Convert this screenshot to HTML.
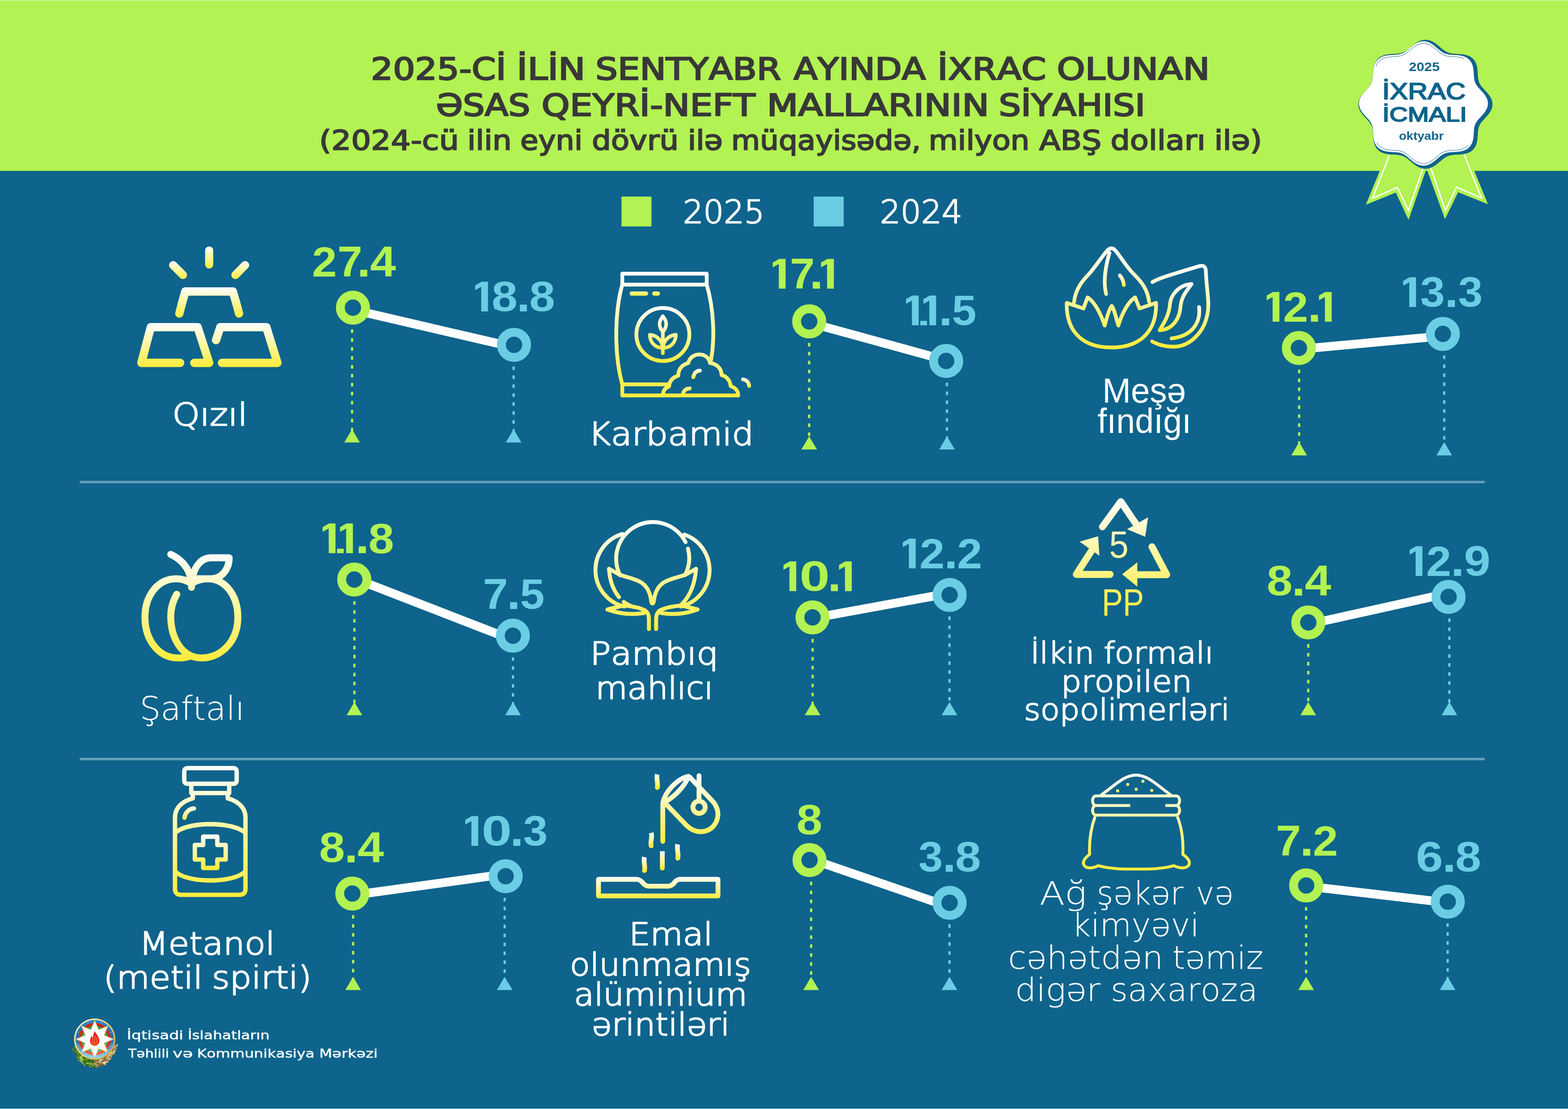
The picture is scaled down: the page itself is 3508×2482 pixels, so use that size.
<!DOCTYPE html>
<html lang="az"><head><meta charset="utf-8"><title>2025-ci ilin sentyabr ayında ixrac olunan əsas qeyri-neft mallarının siyahısı</title>
<style>
html,body{margin:0;padding:0;background:#0e648c;}
body{width:3508px;height:2482px;overflow:hidden;font-family:"Liberation Sans",sans-serif;}
svg{display:block;}
text{font-kerning:none;white-space:pre;}
</style></head><body>
<svg xmlns="http://www.w3.org/2000/svg" width="3508" height="2482" viewBox="0 0 3508 2482">
<rect x="0" y="0" width="3508" height="2482" fill="#0e648c"/>
<rect x="0" y="0" width="3508" height="382.5" fill="#b2f252"/>
<rect x="0" y="0" width="3508" height="1.5" fill="#d2f5b4"/>
<rect x="0" y="2480" width="3508" height="1" fill="#0c5479"/>
<rect x="0" y="2481" width="3508" height="1" fill="#c4ffff"/>
<text y="177.9" font-family="'DejaVu Sans', 'Liberation Sans', sans-serif" font-size="68.0" fill="#383838" stroke="#383838" stroke-width="2.8" stroke-linejoin="miter" stroke-miterlimit="2"><tspan x="829.8" textLength="302.5" lengthAdjust="spacingAndGlyphs">2025-Cİ</tspan> <tspan x="1156.3" textLength="153.3" lengthAdjust="spacingAndGlyphs">İLİN</tspan> <tspan x="1332.2" textLength="415.2" lengthAdjust="spacingAndGlyphs">SENTYABR</tspan> <tspan x="1775.8" textLength="295.1" lengthAdjust="spacingAndGlyphs">AYINDA</tspan> <tspan x="2097.3" textLength="243.4" lengthAdjust="spacingAndGlyphs">İXRAC</tspan> <tspan x="2364.6" textLength="341.9" lengthAdjust="spacingAndGlyphs">OLUNAN</tspan></text>
<text y="259.3" font-family="'DejaVu Sans', 'Liberation Sans', sans-serif" font-size="68.0" fill="#383838" stroke="#383838" stroke-width="2.8" stroke-linejoin="miter" stroke-miterlimit="2"><tspan x="975.0" textLength="211.1" lengthAdjust="spacingAndGlyphs">ƏSAS</tspan> <tspan x="1211.5" textLength="478.1" lengthAdjust="spacingAndGlyphs">QEYRİ-NEFT</tspan> <tspan x="1715.7" textLength="497.2" lengthAdjust="spacingAndGlyphs">MALLARININ</tspan> <tspan x="2234.4" textLength="328.0" lengthAdjust="spacingAndGlyphs">SİYAHISI</tspan></text>
<text y="335.2" font-family="'DejaVu Sans', 'Liberation Sans', sans-serif" font-size="60.0" fill="#383838" stroke="#383838" stroke-width="2.296" stroke-linejoin="miter" stroke-miterlimit="2"><tspan x="714.0" textLength="312.7" lengthAdjust="spacingAndGlyphs">(2024-cü</tspan> <tspan x="1045.4" textLength="99.1" lengthAdjust="spacingAndGlyphs">ilin</tspan> <tspan x="1164.0" textLength="139.2" lengthAdjust="spacingAndGlyphs">eyni</tspan> <tspan x="1324.2" textLength="194.1" lengthAdjust="spacingAndGlyphs">dövrü</tspan> <tspan x="1538.7" textLength="78.3" lengthAdjust="spacingAndGlyphs">ilə</tspan> <tspan x="1636.1" textLength="424.1" lengthAdjust="spacingAndGlyphs">müqayisədə,</tspan> <tspan x="2077.4" textLength="226.0" lengthAdjust="spacingAndGlyphs">milyon</tspan> <tspan x="2325.0" textLength="139.3" lengthAdjust="spacingAndGlyphs">ABŞ</tspan> <tspan x="2484.6" textLength="212.5" lengthAdjust="spacingAndGlyphs">dolları</tspan> <tspan x="2716.7" textLength="106.9" lengthAdjust="spacingAndGlyphs">ilə)</tspan></text>
<rect x="1390.4" y="440" width="67.1" height="66.8" fill="#b2f252"/>
<rect x="1820.4" y="440" width="67.1" height="66.8" fill="#6acde4"/>
<text y="499.3" font-family="'DejaVu Sans Light', 'DejaVu Sans', 'Liberation Sans', sans-serif" font-size="70.5" font-weight="200" fill="#fff" stroke="#fff" stroke-width="2.4" stroke-linejoin="miter" stroke-miterlimit="2"><tspan x="1527.9" textLength="182.5" lengthAdjust="spacingAndGlyphs">2025</tspan></text>
<text y="499.3" font-family="'DejaVu Sans Light', 'DejaVu Sans', 'Liberation Sans', sans-serif" font-size="70.5" font-weight="200" fill="#fff" stroke="#fff" stroke-width="2.4" stroke-linejoin="miter" stroke-miterlimit="2"><tspan x="1968.7" textLength="184.3" lengthAdjust="spacingAndGlyphs">2024</tspan></text>
<rect x="178.3" y="1076.1" width="3143.2" height="5.6" fill="#659db9"/>
<rect x="178.3" y="1696" width="3143.2" height="5.6" fill="#659db9"/>
<line x1="815.6" y1="699.2" x2="1124.0" y2="771.1" stroke="#fff" stroke-width="19.5"/>
<line x1="787.7" y1="736.9" x2="787.7" y2="966.7" stroke="#b2f252" stroke-width="5" stroke-dasharray="8 12.03"/>
<path d="M787.7 960.7L805.2 990.3H770.2Z" fill="#b2f252"/>
<circle cx="789.6" cy="688.6" r="28.2" fill="#0e648c" stroke="#b2f252" stroke-width="19.8"/>
<line x1="1149.1" y1="820.1" x2="1149.1" y2="966.7" stroke="#6acde4" stroke-width="5" stroke-dasharray="8 12.03"/>
<path d="M1149.1 960.7L1166.6 990.3H1131.6Z" fill="#6acde4"/>
<circle cx="1150.0" cy="771.8" r="28.2" fill="#0e648c" stroke="#6acde4" stroke-width="19.8"/>
<text y="618.9" font-family="'Liberation Sans', sans-serif" font-size="95.9" font-weight="bold" fill="#b2f252"><tspan x="697.9" y="618.9" font-size="95.0" textLength="55.6" lengthAdjust="spacingAndGlyphs">2</tspan><tspan x="755.1" y="618.9" font-size="95.9" textLength="55.8" lengthAdjust="spacingAndGlyphs">7</tspan><tspan x="798.5" y="618.9" font-size="102.0" textLength="30.7" lengthAdjust="spacingAndGlyphs">.</tspan><tspan x="828.1" y="618.9" font-size="95.9" textLength="57.8" lengthAdjust="spacingAndGlyphs">4</tspan></text>
<text y="697.0" font-family="'Liberation Sans', sans-serif" font-size="95.9" font-weight="bold" fill="#6acde4"><tspan x="1050.9" y="697.0" textLength="61.2" lengthAdjust="spacingAndGlyphs">1</tspan><tspan x="1099.9" y="696.4" font-size="94.1" textLength="57.8" lengthAdjust="spacingAndGlyphs">8</tspan><tspan x="1155.5" y="697.0" font-size="102.0" textLength="30.9" lengthAdjust="spacingAndGlyphs">.</tspan><tspan x="1184.3" y="696.4" font-size="94.1" textLength="57.5" lengthAdjust="spacingAndGlyphs">8</tspan></text>
<path d="M1057 628.0H1063.00V660.7H1057ZM1091.70 699.5L1111.00 699.5L1111.00 698.0L1111.00 696.5L1111.00 695.0L1109.15 693.5L1107.45 692.0L1106.12 690.5L1105.09 689.0L1104.29 687.5L1104.08 687.0L1103.57 685.6L1091.70 685.6ZM1076.60 699.5L1056.00 699.5L1056.00 698.0L1056.00 696.5L1056.00 695.0L1056.00 693.5L1056.00 692.0L1056.00 690.5L1056.00 689.0L1056.00 687.5L1056.00 687.0L1056.00 685.6L1076.60 685.6Z" fill="#0e648c"/>
<line x1="1836.4" y1="729.3" x2="2090.8" y2="799.3" stroke="#fff" stroke-width="19.5"/>
<line x1="1810.3" y1="767.5" x2="1810.3" y2="982.5" stroke="#b2f252" stroke-width="5" stroke-dasharray="8 12.03"/>
<path d="M1810.3 976.5L1827.8 1006.1H1792.8Z" fill="#b2f252"/>
<circle cx="1810.4" cy="719.2" r="28.2" fill="#0e648c" stroke="#b2f252" stroke-width="19.8"/>
<line x1="2118.6" y1="856.2" x2="2118.6" y2="982.5" stroke="#6acde4" stroke-width="5" stroke-dasharray="8 12.03"/>
<path d="M2118.6 976.5L2136.1 1006.1H2101.1Z" fill="#6acde4"/>
<circle cx="2116.8" cy="807.9" r="28.2" fill="#0e648c" stroke="#6acde4" stroke-width="19.8"/>
<text y="646.0" font-family="'Liberation Sans', sans-serif" font-size="95.9" font-weight="bold" fill="#b2f252"><tspan x="1716.7" y="646.0" textLength="61.2" lengthAdjust="spacingAndGlyphs">1</tspan><tspan x="1767.3" y="646.0" font-size="95.9" textLength="55.5" lengthAdjust="spacingAndGlyphs">7</tspan><tspan x="1810.8" y="646.0" font-size="102.0" textLength="30.9" lengthAdjust="spacingAndGlyphs">.</tspan><tspan x="1824.7" y="646.0" textLength="61.2" lengthAdjust="spacingAndGlyphs">1</tspan></text>
<path d="M1723 577.0H1728.70V609.7H1723ZM1757.50 648.5L1776.00 648.5L1776.00 647.0L1776.00 645.5L1776.00 644.0L1776.00 642.5L1776.00 641.0L1776.00 639.5L1776.00 638.0L1776.00 636.5L1776.00 636.0L1776.00 634.6L1757.50 634.6ZM1742.40 648.5L1722.00 648.5L1722.00 647.0L1722.00 645.5L1722.00 644.0L1722.00 642.5L1722.00 641.0L1722.00 639.5L1722.00 638.0L1722.00 636.5L1722.00 636.0L1722.00 634.6L1742.40 634.6ZM1831 577.0H1836.90V609.7H1831ZM1865.50 648.5L1884.00 648.5L1884.00 647.0L1884.00 645.5L1884.00 644.0L1884.00 642.5L1884.00 641.0L1884.00 639.5L1884.00 638.0L1884.00 636.5L1884.00 636.0L1884.00 634.6L1865.50 634.6ZM1850.40 648.5L1834.60 648.5L1834.60 647.0L1834.60 645.5L1834.60 644.0L1834.60 642.5L1834.60 641.0L1834.60 639.5L1834.60 638.0L1834.60 636.5L1834.60 636.0L1834.60 634.6L1850.40 634.6Z" fill="#0e648c"/>
<text y="727.9" font-family="'Liberation Sans', sans-serif" font-size="95.9" font-weight="bold" fill="#6acde4"><tspan x="2014.6" y="727.9" textLength="61.2" lengthAdjust="spacingAndGlyphs">1</tspan><tspan x="2053.5" y="727.9" textLength="61.2" lengthAdjust="spacingAndGlyphs">1</tspan><tspan x="2100.2" y="727.9" font-size="102.0" textLength="30.7" lengthAdjust="spacingAndGlyphs">.</tspan><tspan x="2129.7" y="727.3" font-size="95.0" textLength="54.8" lengthAdjust="spacingAndGlyphs">5</tspan></text>
<path d="M2021 658.9H2027.00V691.6H2021ZM2055.40 730.4L2074.00 730.4L2074.00 728.9L2074.00 727.4L2074.00 725.9L2074.00 724.4L2074.00 722.9L2074.00 721.4L2074.00 719.9L2074.00 718.4L2074.00 717.9L2074.00 716.5L2055.40 716.5ZM2040.30 730.4L2020.00 730.4L2020.00 728.9L2020.00 727.4L2020.00 725.9L2020.00 724.4L2020.00 722.9L2020.00 721.4L2020.00 719.9L2020.00 718.4L2020.00 717.9L2020.00 716.5L2040.30 716.5ZM2060 658.9H2065.90V691.6H2060ZM2094.30 730.4L2107.20 730.4L2107.20 728.9L2107.20 727.4L2107.20 725.9L2107.20 724.4L2107.20 722.9L2107.20 721.4L2107.20 719.9L2107.20 718.4L2107.20 717.9L2107.20 716.5L2094.30 716.5ZM2079.20 730.4L2059.00 730.4L2059.00 728.9L2059.00 727.4L2059.00 725.9L2059.00 724.4L2059.00 722.9L2059.00 721.4L2059.00 719.9L2059.00 718.4L2059.00 717.9L2059.00 716.5L2079.20 716.5Z" fill="#0e648c"/>
<line x1="2932.0" y1="779.3" x2="3202.0" y2="754.4" stroke="#fff" stroke-width="19.5"/>
<line x1="2906.5" y1="827.2" x2="2906.5" y2="995.6" stroke="#b2f252" stroke-width="5" stroke-dasharray="8 12.03"/>
<path d="M2906.5 989.6L2924.0 1019.2H2889.0Z" fill="#b2f252"/>
<circle cx="2906.0" cy="778.9" r="28.2" fill="#0e648c" stroke="#b2f252" stroke-width="19.8"/>
<line x1="3231.1" y1="795.6" x2="3231.1" y2="995.6" stroke="#6acde4" stroke-width="5" stroke-dasharray="8 12.03"/>
<path d="M3231.1 989.6L3248.6 1019.2H3213.6Z" fill="#6acde4"/>
<circle cx="3228.0" cy="747.3" r="28.2" fill="#0e648c" stroke="#6acde4" stroke-width="19.8"/>
<text y="720.0" font-family="'Liberation Sans', sans-serif" font-size="95.9" font-weight="bold" fill="#b2f252"><tspan x="2821.5" y="720.0" textLength="61.2" lengthAdjust="spacingAndGlyphs">1</tspan><tspan x="2870.8" y="720.0" font-size="95.0" textLength="55.9" lengthAdjust="spacingAndGlyphs">2</tspan><tspan x="2925.4" y="720.0" font-size="102.0" textLength="30.3" lengthAdjust="spacingAndGlyphs">.</tspan><tspan x="2938.5" y="720.0" textLength="61.2" lengthAdjust="spacingAndGlyphs">1</tspan></text>
<path d="M2828 651.0H2833.80V683.7H2828ZM2862.30 722.5L2873.80 722.5L2873.80 721.0L2873.80 719.5L2873.80 718.0L2873.80 716.5L2873.80 715.0L2873.80 713.5L2873.80 712.0L2873.80 710.5L2873.87 710.0L2874.59 708.6L2862.30 708.6ZM2847.20 722.5L2827.00 722.5L2827.00 721.0L2827.00 719.5L2827.00 718.0L2827.00 716.5L2827.00 715.0L2827.00 713.5L2827.00 712.0L2827.00 710.5L2827.00 710.0L2827.00 708.6L2847.20 708.6ZM2945 651.0H2950.90V683.7H2945ZM2979.30 722.5L2998.00 722.5L2998.00 721.0L2998.00 719.5L2998.00 718.0L2998.00 716.5L2998.00 715.0L2998.00 713.5L2998.00 712.0L2998.00 710.5L2998.00 710.0L2998.00 708.6L2979.30 708.6ZM2964.20 722.5L2948.70 722.5L2948.70 721.0L2948.70 719.5L2948.70 718.0L2948.70 716.5L2948.70 715.0L2948.70 713.5L2948.70 712.0L2948.70 710.5L2948.70 710.0L2948.70 708.6L2964.20 708.6Z" fill="#0e648c"/>
<text y="687.0" font-family="'Liberation Sans', sans-serif" font-size="95.9" font-weight="bold" fill="#6acde4"><tspan x="3127.2" y="687.0" textLength="61.2" lengthAdjust="spacingAndGlyphs">1</tspan><tspan x="3177.5" y="686.4" font-size="94.1" textLength="55.0" lengthAdjust="spacingAndGlyphs">3</tspan><tspan x="3231.8" y="687.0" font-size="102.0" textLength="30.9" lengthAdjust="spacingAndGlyphs">.</tspan><tspan x="3262.2" y="686.4" font-size="94.1" textLength="54.9" lengthAdjust="spacingAndGlyphs">3</tspan></text>
<path d="M3133 618.0H3139.30V650.7H3133ZM3168.00 689.5L3187.00 689.5L3187.00 688.0L3187.00 686.5L3187.00 685.0L3186.18 683.5L3184.55 682.0L3183.26 680.5L3182.22 679.0L3181.40 677.5L3181.16 677.0L3180.58 675.6L3168.00 675.6ZM3152.90 689.5L3133.00 689.5L3133.00 688.0L3133.00 686.5L3133.00 685.0L3133.00 683.5L3133.00 682.0L3133.00 680.5L3133.00 679.0L3133.00 677.5L3133.00 677.0L3133.00 675.6L3152.90 675.6Z" fill="#0e648c"/>
<line x1="818.6" y1="1304.7" x2="1121.5" y2="1422.2" stroke="#fff" stroke-width="19.5"/>
<line x1="792.9" y1="1345.4" x2="792.9" y2="1577.2" stroke="#b2f252" stroke-width="5" stroke-dasharray="8 12.03"/>
<path d="M792.9 1571.2L810.4 1600.8H775.4Z" fill="#b2f252"/>
<circle cx="792.6" cy="1297.1" r="28.2" fill="#0e648c" stroke="#b2f252" stroke-width="19.8"/>
<line x1="1147.7" y1="1471.0" x2="1147.7" y2="1577.2" stroke="#6acde4" stroke-width="5" stroke-dasharray="8 12.03"/>
<path d="M1147.7 1571.2L1165.2 1600.8H1130.2Z" fill="#6acde4"/>
<circle cx="1147.5" cy="1422.7" r="28.2" fill="#0e648c" stroke="#6acde4" stroke-width="19.8"/>
<text y="1238.2" font-family="'Liberation Sans', sans-serif" font-size="95.9" font-weight="bold" fill="#b2f252"><tspan x="709.8" y="1238.2" textLength="61.2" lengthAdjust="spacingAndGlyphs">1</tspan><tspan x="748.8" y="1238.2" textLength="61.2" lengthAdjust="spacingAndGlyphs">1</tspan><tspan x="795.3" y="1238.2" font-size="102.0" textLength="30.9" lengthAdjust="spacingAndGlyphs">.</tspan><tspan x="824.3" y="1237.6" font-size="94.1" textLength="57.3" lengthAdjust="spacingAndGlyphs">8</tspan></text>
<path d="M716 1169.2H721.80V1201.9H716ZM750.60 1240.7L769.00 1240.7L769.00 1239.2L769.00 1237.7L769.00 1236.2L769.00 1234.7L769.00 1233.2L769.00 1231.7L769.00 1230.2L769.00 1228.7L769.00 1228.2L769.00 1226.8L750.60 1226.8ZM735.50 1240.7L715.00 1240.7L715.00 1239.2L715.00 1237.7L715.00 1236.2L715.00 1234.7L715.00 1233.2L715.00 1231.7L715.00 1230.2L715.00 1228.7L715.00 1228.2L715.00 1226.8L735.50 1226.8ZM755 1169.2H760.80V1201.9H755ZM789.60 1240.7L802.40 1240.7L802.40 1239.2L802.40 1237.7L802.40 1236.2L802.40 1234.7L802.40 1233.2L802.40 1231.7L802.40 1230.2L802.40 1228.7L802.40 1228.2L802.40 1226.8L789.60 1226.8ZM774.50 1240.7L754.00 1240.7L754.00 1239.2L754.00 1237.7L754.00 1236.2L754.00 1234.7L754.00 1233.2L754.00 1231.7L754.00 1230.2L754.00 1228.7L754.00 1228.2L754.00 1226.8L774.50 1226.8Z" fill="#0e648c"/>
<text y="1362.9" font-family="'Liberation Sans', sans-serif" font-size="95.9" font-weight="bold" fill="#6acde4"><tspan x="1080.6" y="1362.9" font-size="95.9" textLength="55.9" lengthAdjust="spacingAndGlyphs">7</tspan><tspan x="1133.7" y="1362.9" font-size="102.0" textLength="30.9" lengthAdjust="spacingAndGlyphs">.</tspan><tspan x="1163.4" y="1362.3" font-size="95.0" textLength="54.9" lengthAdjust="spacingAndGlyphs">5</tspan></text>
<line x1="1843.8" y1="1378.8" x2="2098.5" y2="1332.4" stroke="#fff" stroke-width="19.5"/>
<line x1="1818.0" y1="1430.1" x2="1818.0" y2="1577.2" stroke="#b2f252" stroke-width="5" stroke-dasharray="8 12.03"/>
<path d="M1818.0 1571.2L1835.5 1600.8H1800.5Z" fill="#b2f252"/>
<circle cx="1817.8" cy="1381.8" r="28.2" fill="#0e648c" stroke="#b2f252" stroke-width="19.8"/>
<line x1="2124.2" y1="1379.8" x2="2124.2" y2="1577.2" stroke="#6acde4" stroke-width="5" stroke-dasharray="8 12.03"/>
<path d="M2124.2 1571.2L2141.7 1600.8H2106.7Z" fill="#6acde4"/>
<circle cx="2124.5" cy="1331.5" r="28.2" fill="#0e648c" stroke="#6acde4" stroke-width="19.8"/>
<text y="1322.9" font-family="'Liberation Sans', sans-serif" font-size="95.9" font-weight="bold" fill="#b2f252"><tspan x="1740.6" y="1322.9" textLength="61.2" lengthAdjust="spacingAndGlyphs">1</tspan><tspan x="1788.8" y="1322.3" font-size="94.1" textLength="67.5" lengthAdjust="spacingAndGlyphs">0</tspan><tspan x="1851.4" y="1322.9" font-size="102.0" textLength="30.3" lengthAdjust="spacingAndGlyphs">.</tspan><tspan x="1864.8" y="1322.9" textLength="61.2" lengthAdjust="spacingAndGlyphs">1</tspan></text>
<path d="M1747 1253.9H1752.80V1286.6H1747ZM1781.40 1325.4L1800.00 1325.4L1800.00 1323.9L1800.00 1322.4L1800.00 1320.9L1800.00 1319.4L1800.00 1317.9L1800.00 1316.4L1799.21 1314.9L1798.19 1313.4L1797.90 1312.9L1797.09 1311.5L1781.40 1311.5ZM1766.30 1325.4L1746.00 1325.4L1746.00 1323.9L1746.00 1322.4L1746.00 1320.9L1746.00 1319.4L1746.00 1317.9L1746.00 1316.4L1746.00 1314.9L1746.00 1313.4L1746.00 1312.9L1746.00 1311.5L1766.30 1311.5ZM1871 1253.9H1877.20V1286.6H1871ZM1905.60 1325.4L1924.00 1325.4L1924.00 1323.9L1924.00 1322.4L1924.00 1320.9L1924.00 1319.4L1924.00 1317.9L1924.00 1316.4L1924.00 1314.9L1924.00 1313.4L1924.00 1312.9L1924.00 1311.5L1905.60 1311.5ZM1890.50 1325.4L1874.70 1325.4L1874.70 1323.9L1874.70 1322.4L1874.70 1320.9L1874.70 1319.4L1874.70 1317.9L1874.70 1316.4L1874.70 1314.9L1874.70 1313.4L1874.70 1312.9L1874.70 1311.5L1890.50 1311.5Z" fill="#0e648c"/>
<text y="1272.0" font-family="'Liberation Sans', sans-serif" font-size="95.9" font-weight="bold" fill="#6acde4"><tspan x="2007.8" y="1272.0" textLength="61.2" lengthAdjust="spacingAndGlyphs">1</tspan><tspan x="2057.4" y="1272.0" font-size="95.0" textLength="55.8" lengthAdjust="spacingAndGlyphs">2</tspan><tspan x="2112.2" y="1272.0" font-size="102.0" textLength="30.5" lengthAdjust="spacingAndGlyphs">.</tspan><tspan x="2141.3" y="1272.0" font-size="95.0" textLength="56.1" lengthAdjust="spacingAndGlyphs">2</tspan></text>
<path d="M2014 1203.0H2019.90V1235.7H2014ZM2048.60 1274.5L2060.40 1274.5L2060.40 1273.0L2060.40 1271.5L2060.40 1270.0L2060.40 1268.5L2060.40 1267.0L2060.40 1265.5L2060.40 1264.0L2060.40 1262.5L2060.47 1262.0L2061.19 1260.6L2048.60 1260.6ZM2033.50 1274.5L2013.00 1274.5L2013.00 1273.0L2013.00 1271.5L2013.00 1270.0L2013.00 1268.5L2013.00 1267.0L2013.00 1265.5L2013.00 1264.0L2013.00 1262.5L2013.00 1262.0L2013.00 1260.6L2033.50 1260.6Z" fill="#0e648c"/>
<line x1="2953.0" y1="1391.6" x2="3214.8" y2="1333.5" stroke="#fff" stroke-width="19.5"/>
<line x1="2926.9" y1="1441.4" x2="2926.9" y2="1577.2" stroke="#b2f252" stroke-width="5" stroke-dasharray="8 12.03"/>
<path d="M2926.9 1571.2L2944.4 1600.8H2909.4Z" fill="#b2f252"/>
<circle cx="2927.0" cy="1393.1" r="28.2" fill="#0e648c" stroke="#b2f252" stroke-width="19.8"/>
<line x1="3242.6" y1="1384.2" x2="3242.6" y2="1577.2" stroke="#6acde4" stroke-width="5" stroke-dasharray="8 12.03"/>
<path d="M3242.6 1571.2L3260.1 1600.8H3225.1Z" fill="#6acde4"/>
<circle cx="3240.8" cy="1335.9" r="28.2" fill="#0e648c" stroke="#6acde4" stroke-width="19.8"/>
<text y="1332.9" font-family="'Liberation Sans', sans-serif" font-size="95.9" font-weight="bold" fill="#b2f252"><tspan x="2834.1" y="1332.3" font-size="94.1" textLength="57.7" lengthAdjust="spacingAndGlyphs">8</tspan><tspan x="2889.7" y="1332.9" font-size="102.0" textLength="30.9" lengthAdjust="spacingAndGlyphs">.</tspan><tspan x="2919.2" y="1332.9" font-size="95.9" textLength="59.0" lengthAdjust="spacingAndGlyphs">4</tspan></text>
<text y="1288.9" font-family="'Liberation Sans', sans-serif" font-size="95.9" font-weight="bold" fill="#6acde4"><tspan x="3141.5" y="1288.9" textLength="61.2" lengthAdjust="spacingAndGlyphs">1</tspan><tspan x="3191.1" y="1288.9" font-size="95.0" textLength="55.8" lengthAdjust="spacingAndGlyphs">2</tspan><tspan x="3245.5" y="1288.9" font-size="102.0" textLength="30.9" lengthAdjust="spacingAndGlyphs">.</tspan><tspan x="3275.3" y="1288.3" font-size="94.1" textLength="59.4" lengthAdjust="spacingAndGlyphs">9</tspan></text>
<path d="M3148 1219.9H3153.80V1252.6H3148ZM3182.30 1291.4L3194.10 1291.4L3194.10 1289.9L3194.10 1288.4L3194.10 1286.9L3194.10 1285.4L3194.10 1283.9L3194.10 1282.4L3194.10 1280.9L3194.10 1279.4L3194.17 1278.9L3194.89 1277.5L3182.30 1277.5ZM3167.20 1291.4L3147.00 1291.4L3147.00 1289.9L3147.00 1288.4L3147.00 1286.9L3147.00 1285.4L3147.00 1283.9L3147.00 1282.4L3147.00 1280.9L3147.00 1279.4L3147.00 1278.9L3147.00 1277.5L3167.20 1277.5Z" fill="#0e648c"/>
<line x1="814.2" y1="2000.0" x2="1105.3" y2="1959.7" stroke="#fff" stroke-width="19.5"/>
<line x1="790.0" y1="2048.1" x2="790.0" y2="2192.2" stroke="#b2f252" stroke-width="5" stroke-dasharray="8 12.03"/>
<path d="M790.0 2186.2L807.5 2215.8H772.5Z" fill="#b2f252"/>
<circle cx="788.2" cy="1999.8" r="28.2" fill="#0e648c" stroke="#b2f252" stroke-width="19.8"/>
<line x1="1129.0" y1="2009.3" x2="1129.0" y2="2192.2" stroke="#6acde4" stroke-width="5" stroke-dasharray="8 12.03"/>
<path d="M1129.0 2186.2L1146.5 2215.8H1111.5Z" fill="#6acde4"/>
<circle cx="1131.3" cy="1961.0" r="28.2" fill="#0e648c" stroke="#6acde4" stroke-width="19.8"/>
<text y="1929.9" font-family="'Liberation Sans', sans-serif" font-size="95.9" font-weight="bold" fill="#b2f252"><tspan x="714.1" y="1929.3" font-size="94.1" textLength="57.7" lengthAdjust="spacingAndGlyphs">8</tspan><tspan x="770.3" y="1929.9" font-size="102.0" textLength="30.5" lengthAdjust="spacingAndGlyphs">.</tspan><tspan x="799.7" y="1929.9" font-size="95.9" textLength="59.2" lengthAdjust="spacingAndGlyphs">4</tspan></text>
<text y="1892.9" font-family="'Liberation Sans', sans-serif" font-size="95.9" font-weight="bold" fill="#6acde4"><tspan x="1028.9" y="1892.9" textLength="61.2" lengthAdjust="spacingAndGlyphs">1</tspan><tspan x="1077.6" y="1892.3" font-size="94.1" textLength="67.4" lengthAdjust="spacingAndGlyphs">0</tspan><tspan x="1140.9" y="1892.9" font-size="102.0" textLength="30.7" lengthAdjust="spacingAndGlyphs">.</tspan><tspan x="1170.5" y="1892.3" font-size="94.1" textLength="54.7" lengthAdjust="spacingAndGlyphs">3</tspan></text>
<path d="M1035 1823.9H1040.90V1856.6H1035ZM1069.70 1895.4L1089.00 1895.4L1089.00 1893.9L1089.00 1892.4L1089.00 1890.9L1089.00 1889.4L1089.00 1887.9L1089.00 1886.4L1088.00 1884.9L1086.98 1883.4L1086.69 1882.9L1085.88 1881.5L1069.70 1881.5ZM1054.60 1895.4L1034.00 1895.4L1034.00 1893.9L1034.00 1892.4L1034.00 1890.9L1034.00 1889.4L1034.00 1887.9L1034.00 1886.4L1034.00 1884.9L1034.00 1883.4L1034.00 1882.9L1034.00 1881.5L1054.60 1881.5Z" fill="#0e648c"/>
<line x1="1837.2" y1="1930.8" x2="2098.5" y2="2020.7" stroke="#fff" stroke-width="19.5"/>
<line x1="1814.7" y1="1973.2" x2="1814.7" y2="2192.2" stroke="#b2f252" stroke-width="5" stroke-dasharray="8 12.03"/>
<path d="M1814.7 2186.2L1832.2 2215.8H1797.2Z" fill="#b2f252"/>
<circle cx="1811.2" cy="1924.9" r="28.2" fill="#0e648c" stroke="#b2f252" stroke-width="19.8"/>
<line x1="2124.2" y1="2068.8" x2="2124.2" y2="2192.2" stroke="#6acde4" stroke-width="5" stroke-dasharray="8 12.03"/>
<path d="M2124.2 2186.2L2141.7 2215.8H2106.7Z" fill="#6acde4"/>
<circle cx="2124.5" cy="2020.5" r="28.2" fill="#0e648c" stroke="#6acde4" stroke-width="19.8"/>
<text y="1867.3" font-family="'Liberation Sans', sans-serif" font-size="95.9" font-weight="bold" fill="#b2f252"><tspan x="1782.0" y="1866.7" font-size="94.1" textLength="57.7" lengthAdjust="spacingAndGlyphs">8</tspan></text>
<text y="1950.8" font-family="'Liberation Sans', sans-serif" font-size="95.9" font-weight="bold" fill="#6acde4"><tspan x="2054.7" y="1950.2" font-size="94.1" textLength="54.6" lengthAdjust="spacingAndGlyphs">3</tspan><tspan x="2108.3" y="1950.8" font-size="102.0" textLength="30.9" lengthAdjust="spacingAndGlyphs">.</tspan><tspan x="2137.0" y="1950.2" font-size="94.1" textLength="57.7" lengthAdjust="spacingAndGlyphs">8</tspan></text>
<line x1="2948.3" y1="1986.3" x2="3213.0" y2="2017.2" stroke="#fff" stroke-width="19.5"/>
<line x1="2922.1" y1="2030.0" x2="2922.1" y2="2192.2" stroke="#b2f252" stroke-width="5" stroke-dasharray="8 12.03"/>
<path d="M2922.1 2186.2L2939.6 2215.8H2904.6Z" fill="#b2f252"/>
<circle cx="2922.3" cy="1981.7" r="28.2" fill="#0e648c" stroke="#b2f252" stroke-width="19.8"/>
<line x1="3238.7" y1="2066.3" x2="3238.7" y2="2192.2" stroke="#6acde4" stroke-width="5" stroke-dasharray="8 12.03"/>
<path d="M3238.7 2186.2L3256.2 2215.8H3221.2Z" fill="#6acde4"/>
<circle cx="3239.0" cy="2018.0" r="28.2" fill="#0e648c" stroke="#6acde4" stroke-width="19.8"/>
<text y="1915.0" font-family="'Liberation Sans', sans-serif" font-size="95.9" font-weight="bold" fill="#b2f252"><tspan x="2854.4" y="1915.0" font-size="95.9" textLength="56.2" lengthAdjust="spacingAndGlyphs">7</tspan><tspan x="2907.9" y="1915.0" font-size="102.0" textLength="30.9" lengthAdjust="spacingAndGlyphs">.</tspan><tspan x="2937.3" y="1915.0" font-size="95.0" textLength="56.1" lengthAdjust="spacingAndGlyphs">2</tspan></text>
<text y="1950.8" font-family="'Liberation Sans', sans-serif" font-size="95.9" font-weight="bold" fill="#6acde4"><tspan x="3167.7" y="1950.2" font-size="94.1" textLength="60.6" lengthAdjust="spacingAndGlyphs">6</tspan><tspan x="3226.4" y="1950.8" font-size="102.0" textLength="31.5" lengthAdjust="spacingAndGlyphs">.</tspan><tspan x="3255.9" y="1950.2" font-size="94.1" textLength="57.7" lengthAdjust="spacingAndGlyphs">8</tspan></text>
<text y="952.4" font-family="'DejaVu Sans Light', 'DejaVu Sans', 'Liberation Sans', sans-serif" font-size="69.4" font-weight="200" fill="#fff" stroke="#fff" stroke-width="2.4" stroke-linejoin="miter" stroke-miterlimit="2"><tspan x="385.6" textLength="168.3" lengthAdjust="spacingAndGlyphs">Qızıl</tspan></text>
<text y="996.0" font-family="'DejaVu Sans Light', 'DejaVu Sans', 'Liberation Sans', sans-serif" font-size="70.9" font-weight="200" fill="#fff" stroke="#fff" stroke-width="2.4" stroke-linejoin="miter" stroke-miterlimit="2"><tspan x="1316.3" textLength="369.9" lengthAdjust="spacingAndGlyphs">Karbamid</tspan></text>
<text y="901.3" font-family="'Liberation Sans', sans-serif" font-size="76.9" fill="#fff"><tspan x="2466.2" textLength="187.1" lengthAdjust="spacingAndGlyphs">Meşə</tspan></text>
<text y="968.6" font-family="'Liberation Sans', sans-serif" font-size="76.9" fill="#fff"><tspan x="2455.3" textLength="210.0" lengthAdjust="spacingAndGlyphs">fındığı</tspan></text>
<text y="1610.9" font-family="'DejaVu Sans Light', 'DejaVu Sans', 'Liberation Sans', sans-serif" font-size="72.3" font-weight="200" fill="#fff" stroke="#fff" stroke-width="0.3" stroke-linejoin="miter" stroke-miterlimit="2"><tspan x="312.4" textLength="234.8" lengthAdjust="spacingAndGlyphs">Şaftalı</tspan></text>
<text y="1487.1" font-family="'DejaVu Sans Light', 'DejaVu Sans', 'Liberation Sans', sans-serif" font-size="69.0" font-weight="200" fill="#fff" stroke="#fff" stroke-width="2.4" stroke-linejoin="miter" stroke-miterlimit="2"><tspan x="1320.3" textLength="286.8" lengthAdjust="spacingAndGlyphs">Pambıq</tspan></text>
<text y="1563.9" font-family="'DejaVu Sans Light', 'DejaVu Sans', 'Liberation Sans', sans-serif" font-size="69.0" font-weight="200" fill="#fff" stroke="#fff" stroke-width="2.4" stroke-linejoin="miter" stroke-miterlimit="2"><tspan x="1332.4" textLength="263.1" lengthAdjust="spacingAndGlyphs">mahlıcı</tspan></text>
<text y="1483.5" font-family="'DejaVu Sans Light', 'DejaVu Sans', 'Liberation Sans', sans-serif" font-size="65.7" font-weight="200" fill="#fff" stroke="#fff" stroke-width="2.4" stroke-linejoin="miter" stroke-miterlimit="2"><tspan x="2305.3" textLength="142.9" lengthAdjust="spacingAndGlyphs">İlkin</tspan> <tspan x="2469.4" textLength="245.5" lengthAdjust="spacingAndGlyphs">formalı</tspan></text>
<text y="1547.7" font-family="'DejaVu Sans Light', 'DejaVu Sans', 'Liberation Sans', sans-serif" font-size="65.7" font-weight="200" fill="#fff" stroke="#fff" stroke-width="2.4" stroke-linejoin="miter" stroke-miterlimit="2"><tspan x="2374.1" textLength="292.8" lengthAdjust="spacingAndGlyphs">propilen</tspan></text>
<text y="1611.3" font-family="'DejaVu Sans Light', 'DejaVu Sans', 'Liberation Sans', sans-serif" font-size="65.7" font-weight="200" fill="#fff" stroke="#fff" stroke-width="2.4" stroke-linejoin="miter" stroke-miterlimit="2"><tspan x="2290.9" textLength="460.1" lengthAdjust="spacingAndGlyphs">sopolimerləri</tspan></text>
<text y="2135.9" font-family="'DejaVu Sans Light', 'DejaVu Sans', 'Liberation Sans', sans-serif" font-size="69.0" font-weight="200" fill="#fff" stroke="#fff" stroke-width="2.4" stroke-linejoin="miter" stroke-miterlimit="2"><tspan x="311.4" textLength="303.6" lengthAdjust="spacingAndGlyphs">Metanol</tspan></text>
<text y="2212.1" font-family="'DejaVu Sans Light', 'DejaVu Sans', 'Liberation Sans', sans-serif" font-size="69.0" font-weight="200" fill="#fff" stroke="#fff" stroke-width="2.4" stroke-linejoin="miter" stroke-miterlimit="2"><tspan x="231.4" textLength="221.9" lengthAdjust="spacingAndGlyphs">(metil</tspan> <tspan x="474.1" textLength="223.0" lengthAdjust="spacingAndGlyphs">spirti)</tspan></text>
<text y="2114.9" font-family="'DejaVu Sans Light', 'DejaVu Sans', 'Liberation Sans', sans-serif" font-size="69.0" font-weight="200" fill="#fff" stroke="#fff" stroke-width="2.4" stroke-linejoin="miter" stroke-miterlimit="2"><tspan x="1407.3" textLength="187.3" lengthAdjust="spacingAndGlyphs">Emal</tspan></text>
<text y="2182.5" font-family="'DejaVu Sans Light', 'DejaVu Sans', 'Liberation Sans', sans-serif" font-size="69.0" font-weight="200" fill="#fff" stroke="#fff" stroke-width="2.4" stroke-linejoin="miter" stroke-miterlimit="2"><tspan x="1275.1" textLength="405.3" lengthAdjust="spacingAndGlyphs">olunmamış</tspan></text>
<text y="2249.6" font-family="'DejaVu Sans Light', 'DejaVu Sans', 'Liberation Sans', sans-serif" font-size="69.0" font-weight="200" fill="#fff" stroke="#fff" stroke-width="2.4" stroke-linejoin="miter" stroke-miterlimit="2"><tspan x="1284.3" textLength="387.6" lengthAdjust="spacingAndGlyphs">alüminium</tspan></text>
<text y="2317.1" font-family="'DejaVu Sans Light', 'DejaVu Sans', 'Liberation Sans', sans-serif" font-size="69.0" font-weight="200" fill="#fff" stroke="#fff" stroke-width="2.4" stroke-linejoin="miter" stroke-miterlimit="2"><tspan x="1323.4" textLength="309.0" lengthAdjust="spacingAndGlyphs">ərintiləri</tspan></text>
<text y="2023.8" font-family="'DejaVu Sans Light', 'DejaVu Sans', 'Liberation Sans', sans-serif" font-size="70.5" font-weight="200" fill="#fff" stroke="#fff" stroke-width="0.3" stroke-linejoin="miter" stroke-miterlimit="2"><tspan x="2326.0" textLength="105.3" lengthAdjust="spacingAndGlyphs">Ağ</tspan> <tspan x="2453.8" textLength="193.8" lengthAdjust="spacingAndGlyphs">şəkər</tspan> <tspan x="2675.5" textLength="84.4" lengthAdjust="spacingAndGlyphs">və</tspan></text>
<text y="2094.8" font-family="'DejaVu Sans Light', 'DejaVu Sans', 'Liberation Sans', sans-serif" font-size="70.5" font-weight="200" fill="#fff" stroke="#fff" stroke-width="0.3" stroke-linejoin="miter" stroke-miterlimit="2"><tspan x="2397.9" textLength="285.1" lengthAdjust="spacingAndGlyphs">kimyəvi</tspan></text>
<text y="2168.0" font-family="'DejaVu Sans Light', 'DejaVu Sans', 'Liberation Sans', sans-serif" font-size="70.5" font-weight="200" fill="#fff" stroke="#fff" stroke-width="0.3" stroke-linejoin="miter" stroke-miterlimit="2"><tspan x="2255.5" textLength="346.9" lengthAdjust="spacingAndGlyphs">cəhətdən</tspan> <tspan x="2622.7" textLength="203.6" lengthAdjust="spacingAndGlyphs">təmiz</tspan></text>
<text y="2239.9" font-family="'DejaVu Sans Light', 'DejaVu Sans', 'Liberation Sans', sans-serif" font-size="70.5" font-weight="200" fill="#fff" stroke="#fff" stroke-width="0.3" stroke-linejoin="miter" stroke-miterlimit="2"><tspan x="2270.8" textLength="191.3" lengthAdjust="spacingAndGlyphs">digər</tspan> <tspan x="2485.0" textLength="329.0" lengthAdjust="spacingAndGlyphs">saxaroza</tspan></text>
<text y="2325.8" font-family="'DejaVu Sans', 'Liberation Sans', sans-serif" font-size="26.9" fill="#fff" stroke="#fff" stroke-width="0.5" stroke-linejoin="miter" stroke-miterlimit="2"><tspan x="283.8" textLength="126.4" lengthAdjust="spacingAndGlyphs">İqtisadi</tspan> <tspan x="419.9" textLength="183.2" lengthAdjust="spacingAndGlyphs">İslahatların</tspan></text>
<text y="2366.8" font-family="'DejaVu Sans', 'Liberation Sans', sans-serif" font-size="26.9" fill="#fff" stroke="#fff" stroke-width="0.5" stroke-linejoin="miter" stroke-miterlimit="2"><tspan x="286.5" textLength="91.9" lengthAdjust="spacingAndGlyphs">Təhlili</tspan> <tspan x="386.2" textLength="45.4" lengthAdjust="spacingAndGlyphs">və</tspan> <tspan x="440.8" textLength="263.1" lengthAdjust="spacingAndGlyphs">Kommunikasiya</tspan> <tspan x="714.3" textLength="130.9" lengthAdjust="spacingAndGlyphs">Mərkəzi</tspan></text>
<g id="badge"><path d="M3102.5 344.2L3055.8 458.2L3122.7 430.9L3151.3 491.9L3191.3 377.6Z M3191.7 377.6L3232.8 490.5L3262.1 430.3L3329 457.1L3280.9 340Z" fill="#b2f252"/>
<path d="M3108 348.4L3070.4 443.8L3126.2 419.4L3151 471L3184 374.8M3200.7 374.8L3233.8 471L3258.6 418.7L3314.3 443.1L3275.3 344.2" fill="none" stroke="#fff" stroke-width="3" stroke-linejoin="miter"/>
<path d="M3339.1 233.4L3338.8 237.2L3338.1 240.9L3336.8 244.6L3335.1 248.2L3333.0 251.6L3330.6 255.0L3328.0 258.2L3325.3 261.3L3322.5 264.3L3319.8 267.2L3317.3 270.0L3315.0 272.8L3312.9 275.6L3311.1 278.5L3309.6 281.5L3308.5 284.6L3307.6 287.9L3307.0 291.3L3306.6 294.9L3306.3 298.6L3306.1 302.5L3305.8 306.5L3305.5 310.5L3305.0 314.5L3304.2 318.5L3303.1 322.4L3301.7 326.1L3299.9 329.5L3297.7 332.7L3295.1 335.6L3292.2 338.1L3288.9 340.2L3285.3 341.9L3281.4 343.3L3277.4 344.3L3273.3 345.1L3269.1 345.6L3264.9 345.9L3260.8 346.1L3256.7 346.3L3252.9 346.6L3249.1 347.0L3245.6 347.6L3242.2 348.4L3239.0 349.5L3235.9 351.0L3232.9 352.7L3229.9 354.7L3227.0 356.9L3224.1 359.4L3221.1 362.0L3218.0 364.6L3214.8 367.2L3211.4 369.7L3208.0 372.0L3204.4 374.0L3200.6 375.7L3196.8 376.9L3192.9 377.6L3189.0 377.9L3185.1 377.6L3181.2 376.9L3177.4 375.7L3173.6 374.0L3170.0 372.0L3166.6 369.7L3163.2 367.2L3160.0 364.6L3156.9 362.0L3153.9 359.4L3151.0 356.9L3148.1 354.7L3145.1 352.7L3142.1 351.0L3139.0 349.5L3135.8 348.4L3132.4 347.6L3128.9 347.0L3125.1 346.6L3121.3 346.3L3117.2 346.1L3113.1 345.9L3108.9 345.6L3104.7 345.1L3100.6 344.3L3096.6 343.3L3092.7 341.9L3089.1 340.2L3085.8 338.1L3082.9 335.6L3080.3 332.7L3078.1 329.5L3076.3 326.1L3074.9 322.4L3073.8 318.5L3073.0 314.5L3072.5 310.5L3072.2 306.5L3071.9 302.5L3071.7 298.6L3071.4 294.9L3071.0 291.3L3070.4 287.9L3069.5 284.6L3068.4 281.5L3066.9 278.5L3065.1 275.6L3063.0 272.8L3060.7 270.0L3058.2 267.2L3055.5 264.3L3052.7 261.3L3050.0 258.2L3047.4 255.0L3045.0 251.6L3042.9 248.2L3041.2 244.6L3039.9 240.9L3039.2 237.2L3038.9 233.4L3039.2 229.6L3039.9 225.9L3041.2 222.2L3042.9 218.6L3045.0 215.2L3047.4 211.8L3050.0 208.6L3052.7 205.5L3055.5 202.5L3058.2 199.6L3060.7 196.8L3063.0 194.0L3065.1 191.2L3066.9 188.3L3068.4 185.3L3069.5 182.2L3070.4 178.9L3071.0 175.5L3071.4 171.9L3071.7 168.2L3071.9 164.3L3072.2 160.3L3072.5 156.3L3073.0 152.3L3073.8 148.3L3074.9 144.4L3076.3 140.7L3078.1 137.3L3080.3 134.1L3082.9 131.2L3085.8 128.7L3089.1 126.6L3092.7 124.9L3096.6 123.5L3100.6 122.5L3104.7 121.7L3108.9 121.2L3113.1 120.9L3117.2 120.7L3121.3 120.5L3125.1 120.2L3128.9 119.8L3132.4 119.2L3135.8 118.4L3139.0 117.3L3142.1 115.8L3145.1 114.1L3148.1 112.1L3151.0 109.9L3153.9 107.4L3156.9 104.8L3160.0 102.2L3163.2 99.6L3166.6 97.1L3170.0 94.8L3173.6 92.8L3177.4 91.1L3181.2 89.9L3185.1 89.2L3189.0 88.9L3192.9 89.2L3196.8 89.9L3200.6 91.1L3204.4 92.8L3208.0 94.8L3211.4 97.1L3214.8 99.6L3218.0 102.2L3221.1 104.8L3224.1 107.4L3227.0 109.9L3229.9 112.1L3232.9 114.1L3235.9 115.8L3239.0 117.3L3242.2 118.4L3245.6 119.2L3249.1 119.8L3252.9 120.2L3256.7 120.5L3260.8 120.7L3264.9 120.9L3269.1 121.2L3273.3 121.7L3277.4 122.5L3281.4 123.5L3285.3 124.9L3288.9 126.6L3292.2 128.7L3295.1 131.2L3297.7 134.1L3299.9 137.3L3301.7 140.7L3303.1 144.4L3304.2 148.3L3305.0 152.3L3305.5 156.3L3305.8 160.3L3306.1 164.3L3306.3 168.2L3306.6 171.9L3307.0 175.5L3307.6 178.9L3308.5 182.2L3309.6 185.3L3311.1 188.3L3312.9 191.2L3315.0 194.0L3317.3 196.8L3319.8 199.6L3322.5 202.5L3325.3 205.5L3328.0 208.6L3330.6 211.8L3333.0 215.2L3335.1 218.6L3336.8 222.2L3338.1 225.9L3338.8 229.6L3339.1 233.4Z" fill="#0f648c"/>
<path d="M3328.9 231.6L3328.6 235.2L3327.9 238.8L3326.7 242.4L3325.0 245.8L3323.0 249.2L3320.7 252.4L3318.2 255.5L3315.6 258.5L3313.0 261.3L3310.4 264.1L3307.9 266.8L3305.7 269.6L3303.7 272.3L3302.0 275.1L3300.6 277.9L3299.5 280.9L3298.6 284.1L3298.1 287.4L3297.7 290.8L3297.4 294.4L3297.2 298.1L3296.9 302.0L3296.6 305.9L3296.1 309.7L3295.4 313.6L3294.3 317.3L3293.0 320.9L3291.2 324.2L3289.1 327.3L3286.6 330.0L3283.8 332.4L3280.6 334.5L3277.2 336.1L3273.5 337.5L3269.6 338.4L3265.6 339.2L3261.6 339.6L3257.5 340.0L3253.6 340.2L3249.7 340.4L3246.0 340.7L3242.4 341.0L3239.0 341.6L3235.7 342.4L3232.6 343.5L3229.7 344.8L3226.8 346.5L3223.9 348.4L3221.1 350.6L3218.3 352.9L3215.4 355.4L3212.4 358.0L3209.4 360.5L3206.2 362.9L3202.8 365.1L3199.4 367.1L3195.8 368.6L3192.1 369.8L3188.4 370.6L3184.6 370.8L3180.8 370.6L3177.1 369.8L3173.4 368.6L3169.8 367.1L3166.4 365.1L3163.0 362.9L3159.8 360.5L3156.8 358.0L3153.8 355.4L3150.9 352.9L3148.1 350.6L3145.3 348.4L3142.4 346.5L3139.5 344.8L3136.6 343.5L3133.5 342.4L3130.2 341.6L3126.8 341.0L3123.2 340.7L3119.5 340.4L3115.6 340.2L3111.7 340.0L3107.6 339.6L3103.6 339.2L3099.6 338.4L3095.7 337.5L3092.0 336.1L3088.6 334.5L3085.4 332.4L3082.6 330.0L3080.1 327.3L3078.0 324.2L3076.2 320.9L3074.9 317.3L3073.8 313.6L3073.1 309.7L3072.6 305.9L3072.3 302.0L3072.0 298.1L3071.8 294.4L3071.5 290.8L3071.1 287.4L3070.6 284.1L3069.7 280.9L3068.6 277.9L3067.2 275.1L3065.5 272.3L3063.5 269.6L3061.3 266.8L3058.8 264.1L3056.2 261.3L3053.6 258.5L3051.0 255.5L3048.5 252.4L3046.2 249.2L3044.2 245.8L3042.5 242.4L3041.3 238.8L3040.6 235.2L3040.3 231.6L3040.6 228.0L3041.3 224.4L3042.5 220.8L3044.2 217.4L3046.2 214.0L3048.5 210.8L3051.0 207.7L3053.6 204.7L3056.2 201.9L3058.8 199.1L3061.3 196.4L3063.5 193.6L3065.5 190.9L3067.2 188.1L3068.6 185.3L3069.7 182.3L3070.6 179.1L3071.1 175.8L3071.5 172.4L3071.8 168.8L3072.0 165.1L3072.3 161.2L3072.6 157.3L3073.1 153.5L3073.8 149.6L3074.9 145.9L3076.2 142.3L3078.0 139.0L3080.1 135.9L3082.6 133.2L3085.4 130.8L3088.6 128.7L3092.0 127.1L3095.7 125.7L3099.6 124.8L3103.6 124.0L3107.6 123.6L3111.7 123.2L3115.6 123.0L3119.5 122.8L3123.2 122.5L3126.8 122.2L3130.2 121.6L3133.5 120.8L3136.6 119.7L3139.5 118.4L3142.4 116.7L3145.3 114.8L3148.1 112.6L3150.9 110.3L3153.8 107.8L3156.8 105.2L3159.8 102.7L3163.0 100.3L3166.4 98.1L3169.8 96.1L3173.4 94.6L3177.1 93.4L3180.8 92.6L3184.6 92.4L3188.4 92.6L3192.1 93.4L3195.8 94.6L3199.4 96.1L3202.8 98.1L3206.2 100.3L3209.4 102.7L3212.4 105.2L3215.4 107.8L3218.3 110.3L3221.1 112.6L3223.9 114.8L3226.8 116.7L3229.7 118.4L3232.6 119.7L3235.7 120.8L3239.0 121.6L3242.4 122.2L3246.0 122.5L3249.7 122.8L3253.6 123.0L3257.5 123.2L3261.6 123.6L3265.6 124.0L3269.6 124.8L3273.5 125.7L3277.2 127.1L3280.6 128.7L3283.8 130.8L3286.6 133.2L3289.1 135.9L3291.2 139.0L3293.0 142.3L3294.3 145.9L3295.4 149.6L3296.1 153.5L3296.6 157.3L3296.9 161.2L3297.2 165.1L3297.4 168.8L3297.7 172.4L3298.1 175.8L3298.6 179.1L3299.5 182.3L3300.6 185.3L3302.0 188.1L3303.7 190.9L3305.7 193.6L3307.9 196.4L3310.4 199.1L3313.0 201.9L3315.6 204.7L3318.2 207.7L3320.7 210.8L3323.0 214.0L3325.0 217.4L3326.7 220.8L3327.9 224.4L3328.6 228.0L3328.9 231.6Z" fill="#fff"/>
<path d="M3078.5 148.8L3079.8 145.4L3081.5 142.1L3083.6 139.2L3086.0 136.5L3088.8 134.2L3091.9 132.2L3095.3 130.6L3098.9 129.3L3102.6 128.4L3106.5 127.7L3110.4 127.3L3114.3 127.0L3118.2 126.7L3121.9 126.5L3125.5 126.3L3129.0 125.9L3132.3 125.3L3135.5 124.5L3138.5 123.4L3141.3 122.1L3144.1 120.5L3146.9 118.6L3149.6 116.4L3152.4 114.1L3155.2 111.7L3158.1 109.2L3161.1 106.8L3164.2 104.5L3167.5 102.4L3170.9 100.5L3174.4 99.1L3178.0 98.0L3181.6 97.4L3185.3 97.2L3188.9 97.5L3192.6 98.3L3196.1 99.6L3199.6 101.2L3202.9 103.1L3206.1 105.3L3209.2 107.7L3212.2 110.1L3215.1 112.6L3217.8 115.0L3220.6 117.2L3223.3 119.3L3226.1 121.1L3228.9 122.6L3231.8 123.9L3234.9 124.8L3238.1 125.6L3241.5 126.1L3245.0 126.4L3248.6 126.6L3252.4 126.8L3256.3 127.1L3260.2 127.4L3264.1 127.9L3268.0 128.7L3271.7 129.8L3275.2 131.2M3284.9 324.9L3282.3 327.5L3279.5 329.7L3276.3 331.5L3272.8 333.0L3269.2 334.2L3265.4 335.0L3261.5 335.6L3257.5 336.0L3253.7 336.3L3249.8 336.5L3246.1 336.7L3242.6 337.0L3239.1 337.5L3235.9 338.1L3232.8 339.0L3229.8 340.1L3227.0 341.6L3224.2 343.3L3221.5 345.3L3218.7 347.5L3216.0 349.8L3213.1 352.3L3210.2 354.7L3207.1 357.1L3204.0 359.4L3200.7 361.4L3197.2 363.2L3193.7 364.5L3190.1 365.5L3186.5 365.9L3182.8 365.9L3179.1 365.5L3175.5 364.5L3172.0 363.2L3168.6 361.5L3165.3 359.4L3162.1 357.2L3159.1 354.8L3156.1 352.3L3153.3 349.8L3150.5 347.5L3147.8 345.3L3145.0 343.3L3142.3 341.6L3139.4 340.2L3136.4 339.0L3133.3 338.1L3130.1 337.5L3126.7 337.0L3123.1 336.7L3119.4 336.5L3115.6 336.3L3111.7 336.1L3107.8 335.6L3103.9 335.0L3100.1 334.2L3096.4 333.0L3093.0 331.5L3089.8 329.7L3086.9 327.5L3084.3 324.9L3082.2 322.1L3080.4 318.9" fill="none" stroke="#0f648c" stroke-width="1"/>
<text x="3152.0" y="159.4" font-family="'Liberation Sans', sans-serif" font-size="27.6" font-weight="bold" fill="#0f648c" textLength="69.0" lengthAdjust="spacingAndGlyphs">2025</text>
<text x="3092.3" y="222.3" font-family="'Liberation Sans', sans-serif" font-size="51.5" fill="#0f648c" stroke="#0f648c" stroke-width="2.2" stroke-linejoin="round" textLength="186.7" lengthAdjust="spacingAndGlyphs">İXRAC</text>
<text x="3092.7" y="272.1" font-family="'Liberation Sans', sans-serif" font-size="45.9" fill="#0f648c" stroke="#0f648c" stroke-width="2.2" stroke-linejoin="round" textLength="189.2" lengthAdjust="spacingAndGlyphs">İCMALI</text>
<text x="3129.7" y="313.3" font-family="'Liberation Sans', sans-serif" font-size="25.7" font-weight="bold" fill="#0f648c" textLength="100.0" lengthAdjust="spacingAndGlyphs">oktyabr</text></g>
<g id="emblem"><defs><linearGradient id="egold" x1="0" y1="0" x2="1" y2="1"><stop offset="0" stop-color="#fffbd0"/><stop offset="0.5" stop-color="#e9d27a"/><stop offset="1" stop-color="#c79a35"/></linearGradient><linearGradient id="eblue" x1="0" y1="0" x2="0" y2="1"><stop offset="0" stop-color="#2a86cc"/><stop offset="0.5" stop-color="#1c6fb8"/><stop offset="1" stop-color="#8fe0ff"/></linearGradient><linearGradient id="ered" x1="0" y1="0" x2="0" y2="1"><stop offset="0" stop-color="#c82812"/><stop offset="0.6" stop-color="#d23020"/><stop offset="1" stop-color="#f26a5c"/></linearGradient><linearGradient id="egreen" x1="0" y1="0" x2="0" y2="1"><stop offset="0" stop-color="#18a040"/><stop offset="1" stop-color="#3fd070"/></linearGradient><radialGradient id="estar" cx="0.5" cy="0.5" r="0.5"><stop offset="0" stop-color="#ffffff"/><stop offset="0.75" stop-color="#ffffff"/><stop offset="1" stop-color="#e6e6ea"/></radialGradient><linearGradient id="eflame" x1="0" y1="0" x2="0" y2="1"><stop offset="0" stop-color="#e01010"/><stop offset="0.7" stop-color="#f02818"/><stop offset="1" stop-color="#e86a10"/></linearGradient></defs><path d="M214.0 2388.1L210.7 2388.2L207.5 2388.0L204.2 2387.5L201.0 2386.8L197.9 2385.9L194.9 2384.7L191.9 2383.4L189.1 2381.8L186.4 2380.1L183.8 2378.2L181.4 2376.1L179.2 2374.0L177.1 2371.7L175.1 2369.3L173.3 2366.8L171.6 2364.3L170.1 2361.8L168.7 2359.2L167.5 2356.5L166.3 2353.9L165.3 2351.2L164.4 2348.5L163.6 2345.8L162.9 2343.1L170.1 2339.3L170.8 2341.5L171.8 2343.7L172.8 2345.8L173.9 2347.9L175.2 2349.9L176.5 2351.9L178.0 2353.7L179.5 2355.5L181.2 2357.2L182.9 2358.8L184.8 2360.3L186.7 2361.7L188.6 2363.0L190.7 2364.2L192.8 2365.3L194.9 2366.3L197.2 2367.2L199.4 2367.9L201.7 2368.5L204.0 2369.0L206.3 2369.3L208.7 2369.6L211.1 2369.7L213.4 2369.7Z" fill="#3f6a22"/>
<path d="M262.0 2337.8L261.4 2340.8L260.8 2343.7L260.0 2346.6L259.1 2349.5L258.0 2352.4L256.9 2355.3L255.6 2358.2L254.1 2361.0L252.5 2363.8L250.8 2366.5L248.8 2369.2L246.7 2371.7L244.4 2374.2L241.9 2376.5L239.3 2378.7L236.5 2380.7L233.5 2382.5L230.4 2384.1L227.1 2385.4L223.8 2386.5L220.4 2387.4L216.9 2387.9L213.3 2388.2L209.8 2388.1L210.4 2369.7L212.9 2369.7L215.5 2369.6L218.0 2369.3L220.5 2368.8L223.0 2368.3L225.5 2367.5L227.9 2366.7L230.3 2365.7L232.6 2364.5L234.8 2363.3L236.9 2361.9L239.0 2360.4L241.0 2358.7L242.8 2357.0L244.6 2355.1L246.3 2353.2L247.8 2351.1L249.2 2349.0L250.5 2346.8L251.7 2344.5L252.7 2342.2L253.6 2339.8L254.3 2337.3L254.9 2334.8Z" fill="#7d6a3c"/>
<ellipse cx="193.4" cy="2371.6" rx="4.5" ry="1.2" fill="#6fa832" transform="rotate(163 193.4 2371.6)"/>
<ellipse cx="175.6" cy="2369.2" rx="3.3" ry="1.4" fill="#6fa832" transform="rotate(261 175.6 2369.2)"/>
<ellipse cx="196.2" cy="2379.1" rx="3.4" ry="1.2" fill="#a5cf5c" transform="rotate(157 196.2 2379.1)"/>
<ellipse cx="173.5" cy="2367.1" rx="4.8" ry="1.1" fill="#6fa832" transform="rotate(249 173.5 2367.1)"/>
<ellipse cx="170.3" cy="2351.1" rx="3.4" ry="1.3" fill="#a5cf5c" transform="rotate(280 170.3 2351.1)"/>
<ellipse cx="172.1" cy="2352.9" rx="3.4" ry="1.5" fill="#8cc04a" transform="rotate(277 172.1 2352.9)"/>
<ellipse cx="178.4" cy="2367.8" rx="4.1" ry="1.6" fill="#3a7020" transform="rotate(245 178.4 2367.8)"/>
<ellipse cx="181.1" cy="2375.4" rx="3.6" ry="1.2" fill="#8cc04a" transform="rotate(188 181.1 2375.4)"/>
<ellipse cx="173.9" cy="2354.2" rx="4.0" ry="1.3" fill="#a5cf5c" transform="rotate(210 173.9 2354.2)"/>
<ellipse cx="184.0" cy="2372.9" rx="4.0" ry="1.2" fill="#6fa832" transform="rotate(171 184.0 2372.9)"/>
<ellipse cx="188.0" cy="2381.0" rx="4.7" ry="1.1" fill="#6fa832" transform="rotate(229 188.0 2381.0)"/>
<ellipse cx="177.5" cy="2369.6" rx="4.3" ry="1.5" fill="#8cc04a" transform="rotate(194 177.5 2369.6)"/>
<ellipse cx="178.8" cy="2365.8" rx="4.0" ry="1.5" fill="#8cc04a" transform="rotate(181 178.8 2365.8)"/>
<ellipse cx="207.7" cy="2384.2" rx="4.3" ry="1.6" fill="#8cc04a" transform="rotate(209 207.7 2384.2)"/>
<ellipse cx="187.7" cy="2380.9" rx="4.2" ry="1.4" fill="#4d8a28" transform="rotate(179 187.7 2380.9)"/>
<ellipse cx="198.6" cy="2375.7" rx="3.8" ry="1.6" fill="#2f5f1a" transform="rotate(235 198.6 2375.7)"/>
<ellipse cx="206.7" cy="2380.1" rx="4.5" ry="1.6" fill="#4d8a28" transform="rotate(161 206.7 2380.1)"/>
<ellipse cx="194.5" cy="2376.2" rx="4.6" ry="1.7" fill="#3a7020" transform="rotate(174 194.5 2376.2)"/>
<ellipse cx="203.0" cy="2375.1" rx="3.6" ry="1.4" fill="#3a7020" transform="rotate(231 203.0 2375.1)"/>
<ellipse cx="179.8" cy="2363.8" rx="3.9" ry="1.3" fill="#4d8a28" transform="rotate(181 179.8 2363.8)"/>
<ellipse cx="176.0" cy="2370.5" rx="4.6" ry="1.6" fill="#2f5f1a" transform="rotate(180 176.0 2370.5)"/>
<ellipse cx="166.8" cy="2352.0" rx="3.8" ry="1.2" fill="#2f5f1a" transform="rotate(266 166.8 2352.0)"/>
<ellipse cx="179.3" cy="2360.5" rx="3.9" ry="1.2" fill="#4d8a28" transform="rotate(184 179.3 2360.5)"/>
<ellipse cx="180.4" cy="2362.1" rx="3.4" ry="1.3" fill="#a5cf5c" transform="rotate(262 180.4 2362.1)"/>
<ellipse cx="210.0" cy="2387.1" rx="4.2" ry="1.7" fill="#4d8a28" transform="rotate(207 210.0 2387.1)"/>
<ellipse cx="177.8" cy="2364.9" rx="4.8" ry="1.4" fill="#2f5f1a" transform="rotate(182 177.8 2364.9)"/>
<ellipse cx="185.7" cy="2366.2" rx="3.7" ry="1.3" fill="#3a7020" transform="rotate(174 185.7 2366.2)"/>
<ellipse cx="171.9" cy="2352.2" rx="4.7" ry="1.4" fill="#4d8a28" transform="rotate(198 171.9 2352.2)"/>
<ellipse cx="202.2" cy="2380.8" rx="3.7" ry="1.5" fill="#a5cf5c" transform="rotate(150 202.2 2380.8)"/>
<ellipse cx="205.3" cy="2386.2" rx="3.8" ry="1.2" fill="#4d8a28" transform="rotate(161 205.3 2386.2)"/>
<ellipse cx="180.2" cy="2367.9" rx="4.5" ry="1.7" fill="#a5cf5c" transform="rotate(258 180.2 2367.9)"/>
<ellipse cx="167.3" cy="2353.3" rx="4.5" ry="1.2" fill="#3a7020" transform="rotate(265 167.3 2353.3)"/>
<ellipse cx="181.0" cy="2372.2" rx="4.0" ry="1.2" fill="#8cc04a" transform="rotate(174 181.0 2372.2)"/>
<ellipse cx="178.5" cy="2363.8" rx="3.3" ry="1.2" fill="#8cc04a" transform="rotate(197 178.5 2363.8)"/>
<ellipse cx="184.7" cy="2369.3" rx="4.8" ry="1.5" fill="#a5cf5c" transform="rotate(238 184.7 2369.3)"/>
<ellipse cx="211.8" cy="2387.7" rx="3.3" ry="1.5" fill="#3a7020" transform="rotate(155 211.8 2387.7)"/>
<ellipse cx="166.2" cy="2349.8" rx="4.6" ry="1.4" fill="#2f5f1a" transform="rotate(284 166.2 2349.8)"/>
<ellipse cx="179.1" cy="2360.6" rx="3.8" ry="1.7" fill="#2f5f1a" transform="rotate(250 179.1 2360.6)"/>
<ellipse cx="175.2" cy="2357.2" rx="3.4" ry="1.6" fill="#6fa832" transform="rotate(271 175.2 2357.2)"/>
<ellipse cx="172.6" cy="2353.2" rx="4.7" ry="1.2" fill="#3a7020" transform="rotate(261 172.6 2353.2)"/>
<ellipse cx="183.2" cy="2363.4" rx="4.4" ry="1.2" fill="#a5cf5c" transform="rotate(178 183.2 2363.4)"/>
<ellipse cx="167.9" cy="2344.0" rx="3.6" ry="1.3" fill="#6fa832" transform="rotate(289 167.9 2344.0)"/>
<ellipse cx="196.1" cy="2379.6" rx="3.9" ry="1.2" fill="#a5cf5c" transform="rotate(172 196.1 2379.6)"/>
<ellipse cx="168.6" cy="2348.6" rx="4.1" ry="1.6" fill="#3a7020" transform="rotate(269 168.6 2348.6)"/>
<ellipse cx="183.5" cy="2377.5" rx="3.4" ry="1.4" fill="#a5cf5c" transform="rotate(249 183.5 2377.5)"/>
<ellipse cx="167.0" cy="2352.0" rx="3.5" ry="1.4" fill="#4d8a28" transform="rotate(201 167.0 2352.0)"/>
<ellipse cx="231.1" cy="2377.6" rx="4.0" ry="1.4" fill="#9a844a" transform="rotate(134 231.1 2377.6)"/>
<ellipse cx="225.3" cy="2372.8" rx="3.5" ry="1.1" fill="#b89d5a" transform="rotate(124 225.3 2372.8)"/>
<ellipse cx="257.2" cy="2345.0" rx="3.9" ry="1.5" fill="#d9c58a" transform="rotate(71 257.2 2345.0)"/>
<ellipse cx="243.4" cy="2368.2" rx="4.0" ry="1.6" fill="#6e5a2c" transform="rotate(117 243.4 2368.2)"/>
<ellipse cx="241.5" cy="2365.9" rx="4.6" ry="1.2" fill="#cdb070" transform="rotate(118 241.5 2365.9)"/>
<ellipse cx="245.5" cy="2364.6" rx="3.7" ry="1.5" fill="#6e5a2c" transform="rotate(163 245.5 2364.6)"/>
<ellipse cx="245.0" cy="2362.1" rx="4.6" ry="1.2" fill="#d9c58a" transform="rotate(112 245.0 2362.1)"/>
<ellipse cx="232.3" cy="2378.7" rx="4.6" ry="1.7" fill="#f0e2b0" transform="rotate(198 232.3 2378.7)"/>
<ellipse cx="257.2" cy="2354.1" rx="3.5" ry="1.5" fill="#6e5a2c" transform="rotate(146 257.2 2354.1)"/>
<ellipse cx="255.6" cy="2353.5" rx="3.9" ry="1.3" fill="#f0e2b0" transform="rotate(146 255.6 2353.5)"/>
<ellipse cx="256.8" cy="2344.5" rx="3.9" ry="1.5" fill="#cdb070" transform="rotate(86 256.8 2344.5)"/>
<ellipse cx="248.9" cy="2362.0" rx="4.7" ry="1.2" fill="#cdb070" transform="rotate(108 248.9 2362.0)"/>
<ellipse cx="217.3" cy="2376.5" rx="3.6" ry="1.1" fill="#d9c58a" transform="rotate(134 217.3 2376.5)"/>
<ellipse cx="226.4" cy="2375.1" rx="4.6" ry="1.5" fill="#6e5a2c" transform="rotate(203 226.4 2375.1)"/>
<ellipse cx="215.7" cy="2379.5" rx="3.7" ry="1.3" fill="#9a844a" transform="rotate(201 215.7 2379.5)"/>
<ellipse cx="224.7" cy="2374.2" rx="4.7" ry="1.5" fill="#f0e2b0" transform="rotate(125 224.7 2374.2)"/>
<ellipse cx="224.2" cy="2372.8" rx="3.6" ry="1.2" fill="#d9c58a" transform="rotate(205 224.2 2372.8)"/>
<ellipse cx="261.5" cy="2340.4" rx="4.2" ry="1.1" fill="#f0e2b0" transform="rotate(130 261.5 2340.4)"/>
<ellipse cx="234.2" cy="2382.1" rx="3.3" ry="1.2" fill="#f0e2b0" transform="rotate(198 234.2 2382.1)"/>
<ellipse cx="250.3" cy="2356.9" rx="3.9" ry="1.5" fill="#f0e2b0" transform="rotate(168 250.3 2356.9)"/>
<ellipse cx="254.9" cy="2356.8" rx="3.2" ry="1.5" fill="#d9c58a" transform="rotate(100 254.9 2356.8)"/>
<ellipse cx="239.0" cy="2367.1" rx="4.7" ry="1.2" fill="#b89d5a" transform="rotate(171 239.0 2367.1)"/>
<ellipse cx="224.4" cy="2378.3" rx="4.5" ry="1.3" fill="#cdb070" transform="rotate(191 224.4 2378.3)"/>
<ellipse cx="244.6" cy="2369.8" rx="3.5" ry="1.6" fill="#f0e2b0" transform="rotate(183 244.6 2369.8)"/>
<ellipse cx="228.8" cy="2372.1" rx="4.5" ry="1.1" fill="#d9c58a" transform="rotate(134 228.8 2372.1)"/>
<ellipse cx="239.3" cy="2377.7" rx="3.3" ry="1.5" fill="#b89d5a" transform="rotate(177 239.3 2377.7)"/>
<ellipse cx="249.0" cy="2361.7" rx="3.6" ry="1.3" fill="#cdb070" transform="rotate(108 249.0 2361.7)"/>
<ellipse cx="243.2" cy="2363.1" rx="3.6" ry="1.7" fill="#d9c58a" transform="rotate(164 243.2 2363.1)"/>
<ellipse cx="213.9" cy="2381.9" rx="4.7" ry="1.3" fill="#d9c58a" transform="rotate(218 213.9 2381.9)"/>
<ellipse cx="246.6" cy="2357.4" rx="4.0" ry="1.4" fill="#d9c58a" transform="rotate(156 246.6 2357.4)"/>
<ellipse cx="255.0" cy="2351.4" rx="3.6" ry="1.2" fill="#d9c58a" transform="rotate(79 255.0 2351.4)"/>
<ellipse cx="245.1" cy="2359.6" rx="3.7" ry="1.2" fill="#f0e2b0" transform="rotate(94 245.1 2359.6)"/>
<ellipse cx="239.4" cy="2372.0" rx="4.6" ry="1.6" fill="#9a844a" transform="rotate(189 239.4 2372.0)"/>
<ellipse cx="240.2" cy="2375.0" rx="3.7" ry="1.5" fill="#b89d5a" transform="rotate(174 240.2 2375.0)"/>
<ellipse cx="258.3" cy="2348.8" rx="4.3" ry="1.4" fill="#9a844a" transform="rotate(140 258.3 2348.8)"/>
<ellipse cx="218.8" cy="2384.7" rx="4.1" ry="1.6" fill="#9a844a" transform="rotate(133 218.8 2384.7)"/>
<ellipse cx="234.6" cy="2377.9" rx="3.2" ry="1.2" fill="#d9c58a" transform="rotate(196 234.6 2377.9)"/>
<ellipse cx="247.1" cy="2358.2" rx="3.3" ry="1.1" fill="#cdb070" transform="rotate(156 247.1 2358.2)"/>
<ellipse cx="240.3" cy="2366.9" rx="3.9" ry="1.1" fill="#d9c58a" transform="rotate(119 240.3 2366.9)"/>
<ellipse cx="217.3" cy="2387.2" rx="4.0" ry="1.5" fill="#9a844a" transform="rotate(135 217.3 2387.2)"/>
<ellipse cx="247.0" cy="2369.0" rx="4.4" ry="1.2" fill="#b89d5a" transform="rotate(115 247.0 2369.0)"/>
<ellipse cx="232.2" cy="2383.8" rx="3.3" ry="1.6" fill="#6e5a2c" transform="rotate(185 232.2 2383.8)"/>
<ellipse cx="249.5" cy="2354.3" rx="4.2" ry="1.3" fill="#d9c58a" transform="rotate(166 249.5 2354.3)"/>
<ellipse cx="236.5" cy="2376.6" rx="4.0" ry="1.4" fill="#d9c58a" transform="rotate(194 236.5 2376.6)"/>
<ellipse cx="213.6" cy="2374.8" rx="4.0" ry="1.5" fill="#9a844a" transform="rotate(218 213.6 2374.8)"/>
<ellipse cx="252.2" cy="2356.2" rx="3.5" ry="1.7" fill="#cdb070" transform="rotate(86 252.2 2356.2)"/>
<circle cx="163.0" cy="2348.5" r="1.6" fill="#c98a20"/>
<circle cx="175.0" cy="2373.0" r="1.6" fill="#c98a20"/>
<circle cx="188.3" cy="2384.1" r="1.6" fill="#c98a20"/>
<circle cx="201.0" cy="2387.7" r="1.6" fill="#c98a20"/>
<circle cx="211.9" cy="2325.7" r="46.1" fill="url(#egold)"/>
<circle cx="211.9" cy="2325.7" r="43" fill="url(#eblue)"/>
<circle cx="211.9" cy="2325.7" r="36.4" fill="url(#ered)"/>
<circle cx="211.9" cy="2325.7" r="29.8" fill="url(#egreen)"/>
<circle cx="248.5" cy="2340.9" r="1.3" fill="#c9a84e"/>
<circle cx="227.1" cy="2362.3" r="1.3" fill="#c9a84e"/>
<circle cx="196.7" cy="2362.3" r="1.3" fill="#c9a84e"/>
<circle cx="175.3" cy="2340.9" r="1.3" fill="#c9a84e"/>
<circle cx="175.3" cy="2310.5" r="1.3" fill="#c9a84e"/>
<circle cx="196.7" cy="2289.1" r="1.3" fill="#c9a84e"/>
<circle cx="227.1" cy="2289.1" r="1.3" fill="#c9a84e"/>
<circle cx="248.5" cy="2310.5" r="1.3" fill="#c9a84e"/>
<path d="M211.9 2283.4L220.7 2304.5L241.8 2295.8L233.1 2316.9L254.2 2325.7L233.1 2334.5L241.8 2355.6L220.7 2346.9L211.9 2368.0L203.1 2346.9L182.0 2355.6L190.7 2334.5L169.6 2325.7L190.7 2316.9L182.0 2295.8L203.1 2304.5Z" fill="url(#estar)" stroke="#d8b65c" stroke-width="1.3" stroke-linejoin="miter"/>
<path d="M211.9 2307.2C213.9 2313.7 222.4 2319.7 222.4 2329.7C222.4 2336.7 217.4 2340.7 211.9 2340.7C206.4 2340.7 201.4 2336.7 201.4 2329.7C201.4 2324.7 203.9 2321.7 205.4 2317.7C206.4 2320.7 206.9 2321.7 207.9 2322.7C207.9 2316.7 210.9 2312.7 211.9 2307.2Z" fill="url(#eflame)"/>
<path d="M207.4 2334.7C205.4 2328.7 207.9 2322.7 209.4 2320.7M211.9 2335.7C210.9 2327.7 212.9 2321.7 213.9 2317.7M216.4 2333.7C217.9 2328.7 216.9 2323.7 215.9 2321.7" fill="none" stroke="#ffd0c0" stroke-width="0.8" stroke-linecap="round"/></g>
<g id="i1"><defs><linearGradient id="g1" gradientUnits="userSpaceOnUse" x1="0" y1="551.0" x2="0" y2="602.0"><stop offset="0" stop-color="#ffffff"/><stop offset="1" stop-color="#fdec3a"/></linearGradient><linearGradient id="g2" gradientUnits="userSpaceOnUse" x1="0" y1="584.0" x2="0" y2="625.0"><stop offset="0" stop-color="#ffffff"/><stop offset="1" stop-color="#fdec3a"/></linearGradient><linearGradient id="g3" gradientUnits="userSpaceOnUse" x1="0" y1="584.0" x2="0" y2="625.0"><stop offset="0" stop-color="#ffffff"/><stop offset="1" stop-color="#fdec3a"/></linearGradient><linearGradient id="g4" gradientUnits="userSpaceOnUse" x1="0" y1="643.0" x2="0" y2="712.0"><stop offset="0" stop-color="#ffffff"/><stop offset="1" stop-color="#fdec3a"/></linearGradient><linearGradient id="g5" gradientUnits="userSpaceOnUse" x1="0" y1="723.0" x2="0" y2="822.0"><stop offset="0" stop-color="#ffffff"/><stop offset="1" stop-color="#fdec3a"/></linearGradient><linearGradient id="g6" gradientUnits="userSpaceOnUse" x1="0" y1="723.0" x2="0" y2="822.0"><stop offset="0" stop-color="#ffffff"/><stop offset="1" stop-color="#fdec3a"/></linearGradient></defs><path d="M468.0 560.5 L468.0 592.0" fill="none" stroke="url(#g1)" stroke-width="18.2" stroke-linecap="round" stroke-linejoin="round"/>
<path d="M387.3 593.4 L409.4 615.5" fill="none" stroke="url(#g2)" stroke-width="18.2" stroke-linecap="round" stroke-linejoin="round"/>
<path d="M548.4 593.4 L526.6 615.5" fill="none" stroke="url(#g3)" stroke-width="18.2" stroke-linecap="round" stroke-linejoin="round"/>
<path d="M401.2 701.8 Q406.9 678.9 414.6 652.4 L520.9 652.4 Q529.1 678.9 534.8 701.8" fill="none" stroke="url(#g4)" stroke-width="18.6" stroke-linecap="round" stroke-linejoin="round"/>
<path d="M403.1 812.1 L316.3 812.1 L337.3 732.3 L442.2 732.3 L468.0 812.1 L434.6 812.1" fill="none" stroke="url(#g5)" stroke-width="18.6" stroke-linecap="round" stroke-linejoin="round"/>
<path d="M483.3 761.3 L492.8 732.3 L595.9 732.3 L620.7 812.1 L496.6 812.1" fill="none" stroke="url(#g6)" stroke-width="18.6" stroke-linecap="round" stroke-linejoin="round"/></g>
<g id="i2"><defs><linearGradient id="g7" gradientUnits="userSpaceOnUse" x1="0" y1="608.1" x2="0" y2="889.5"><stop offset="0" stop-color="#ffffff"/><stop offset="1" stop-color="#fdec3a"/></linearGradient><linearGradient id="g8" gradientUnits="userSpaceOnUse" x1="0" y1="789.0" x2="0" y2="889.5"><stop offset="0" stop-color="#fdf7a0"/><stop offset="1" stop-color="#fdec3a"/></linearGradient><linearGradient id="g9" gradientUnits="userSpaceOnUse" x1="0" y1="825.5" x2="0" y2="848.1"><stop offset="0" stop-color="#ffffff"/><stop offset="1" stop-color="#fdec3a"/></linearGradient><linearGradient id="g10" gradientUnits="userSpaceOnUse" x1="0" y1="864.9" x2="0" y2="885.6"><stop offset="0" stop-color="#fdf285"/><stop offset="1" stop-color="#fdec3a"/></linearGradient><linearGradient id="g11" gradientUnits="userSpaceOnUse" x1="0" y1="845.2" x2="0" y2="867.8"><stop offset="0" stop-color="#ffffff"/><stop offset="1" stop-color="#fdec3a"/></linearGradient><linearGradient id="g12" gradientUnits="userSpaceOnUse" x1="0" y1="685.6" x2="0" y2="812.3"><stop offset="0" stop-color="#ffffff"/><stop offset="1" stop-color="#fdec3a"/></linearGradient><linearGradient id="g13" gradientUnits="userSpaceOnUse" x1="0" y1="702.3" x2="0" y2="794.9"><stop offset="0" stop-color="#ffffff"/><stop offset="1" stop-color="#fdec3a"/></linearGradient><linearGradient id="g14" gradientUnits="userSpaceOnUse" x1="0" y1="651.1" x2="0" y2="662.5"><stop offset="0" stop-color="#fdf7a0"/><stop offset="1" stop-color="#fdec3a"/></linearGradient></defs><path d="M1392.2 636.9 L1392.2 612.5 L1581.1 612.5 L1581.1 636.9 ZM1392.2 636.9 C1376.6 692.5 1372.1 787.0 1392.2 860.3 L1392.2 885.0 L1651.1 885.0M1581.1 636.9 C1597.3 692.5 1599.3 757.5 1590.8 805.8M1392.2 860.3 L1496.2 860.3" fill="none" stroke="url(#g7)" stroke-width="8.5" stroke-linecap="round" stroke-linejoin="round"/>
<path d="M1483.2 885.0 C1483.2 873.7 1487.9 867.8 1496.8 864.9 C1497.8 852.1 1505.7 844.2 1517.5 840.6 C1517.5 826.5 1525.4 816.6 1540.1 812.3 C1542.1 800.8 1553.0 793.3 1564.8 793.3 C1576.6 793.3 1586.5 800.8 1588.4 812.3 C1604.2 814.6 1614.0 824.5 1614.4 839.3 C1625.9 842.2 1633.7 852.1 1634.7 864.3 C1645.6 867.8 1651.5 875.7 1651.5 885.0" fill="none" stroke="url(#g8)" stroke-width="8.5" stroke-linecap="round" stroke-linejoin="round"/>
<path d="M1551.0 844.2 C1553.0 834.3 1558.9 829.4 1565.8 829.4" fill="none" stroke="url(#g9)" stroke-width="8.5" stroke-linecap="round" stroke-linejoin="round"/>
<path d="M1528.3 881.6 C1529.3 873.7 1535.2 869.8 1543.1 869.2" fill="none" stroke="url(#g10)" stroke-width="8.5" stroke-linecap="round" stroke-linejoin="round"/>
<path d="M1662.3 849.1 C1670.2 850.1 1675.1 856.0 1676.1 863.9" fill="none" stroke="url(#g11)" stroke-width="8.5" stroke-linecap="round" stroke-linejoin="round"/>
<circle cx="1483.0" cy="748.6" r="59.3" fill="none" stroke="url(#g12)" stroke-width="8.5"/>
<path d="M1483.0 707.8 C1473.2 720.0 1473.2 730.9 1483.0 742.7 C1492.9 730.9 1492.9 720.0 1483.0 707.8 ZM1483.0 742.7 L1483.0 790.6M1454.0 749.2 C1454.0 767.3 1466.3 778.2 1482.4 778.8 C1482.4 763.4 1470.2 750.6 1454.0 749.2 ZM1512.0 749.2 C1512.0 767.3 1499.8 778.2 1483.6 778.8 C1483.6 763.4 1495.8 750.6 1512.0 749.2 Z" fill="none" stroke="url(#g13)" stroke-width="8.0" stroke-linecap="round" stroke-linejoin="round"/>
<path d="M1413.4 657.0 L1445.2 657.0 M1463.9 657.0 L1471.8 657.0" fill="none" stroke="url(#g14)" stroke-width="9.6" stroke-linecap="round" stroke-linejoin="round"/></g>
<g id="i3"><defs><linearGradient id="g15" gradientUnits="userSpaceOnUse" x1="0" y1="551.6" x2="0" y2="781.8"><stop offset="0" stop-color="#ffffff"/><stop offset="1" stop-color="#fdec3a"/></linearGradient><linearGradient id="g16" gradientUnits="userSpaceOnUse" x1="0" y1="612.3" x2="0" y2="642.2"><stop offset="0" stop-color="#ffffff"/><stop offset="1" stop-color="#fdec3a"/></linearGradient><linearGradient id="g17" gradientUnits="userSpaceOnUse" x1="0" y1="590.7" x2="0" y2="780.2"><stop offset="0" stop-color="#ffffff"/><stop offset="1" stop-color="#fdec3a"/></linearGradient><linearGradient id="g18" gradientUnits="userSpaceOnUse" x1="0" y1="631.4" x2="0" y2="743.6"><stop offset="0" stop-color="#ffffff"/><stop offset="1" stop-color="#fdec3a"/></linearGradient><linearGradient id="g19" gradientUnits="userSpaceOnUse" x1="0" y1="682.9" x2="0" y2="761.9"><stop offset="0" stop-color="#ffffff"/><stop offset="1" stop-color="#fdec3a"/></linearGradient></defs><path d="M2402.9 676.3 C2405.7 646.4 2423.2 626.4 2438.1 611.4 C2453.1 593.2 2466.4 573.2 2476.4 561.6 Q2486.3 549.9 2496.3 561.6 C2509.6 578.2 2519.6 596.5 2536.2 613.1 C2556.1 633.1 2567.8 649.7 2570.8 675.4M2482.2 565.7 C2473.0 596.5 2468.0 629.7 2474.7 658.0M2386.6 677.9 C2384.9 737.8 2418.2 777.7 2486.3 777.7 C2554.5 777.7 2588.1 737.8 2586.4 677.9 L2549.5 690.4 L2539.5 665.5 C2522.9 676.3 2509.6 702.9 2502.1 728.6 C2496.3 709.5 2492.1 689.6 2487.2 684.6 C2482.2 689.6 2476.4 709.5 2471.4 728.6 C2463.1 702.9 2449.8 676.3 2433.1 665.5 L2424.0 690.4 Z" fill="none" stroke="url(#g15)" stroke-width="8.3" stroke-linecap="round" stroke-linejoin="round"/>
<path d="M2505.4 616.4 C2511.3 623.1 2513.8 629.7 2514.3 638.0" fill="none" stroke="url(#g16)" stroke-width="8.3" stroke-linecap="round" stroke-linejoin="round"/>
<path d="M2578.1 631.4 C2592.7 623.1 2609.3 618.1 2626.0 613.1 L2682.5 595.7 Q2697.4 591.5 2697.8 606.5 C2699.1 646.4 2705.7 671.3 2702.4 696.2 C2695.8 746.1 2659.2 776.0 2626.0 776.0 C2606.0 776.0 2589.4 771.0 2577.4 764.0" fill="none" stroke="url(#g17)" stroke-width="8.3" stroke-linecap="round" stroke-linejoin="round"/>
<path d="M2665.9 635.6 C2634.3 638.0 2619.3 663.0 2617.6 679.6 C2616.0 704.5 2604.3 722.8 2594.4 739.1 C2626.0 737.8 2639.3 709.5 2640.9 687.9 C2642.6 663.0 2655.9 649.7 2665.9 635.6 Z" fill="none" stroke="url(#g18)" stroke-width="8.3" stroke-linecap="round" stroke-linejoin="round"/>
<path d="M2682.5 687.1 C2685.8 712.8 2675.8 751.1 2621.0 757.4" fill="none" stroke="url(#g19)" stroke-width="8.3" stroke-linecap="round" stroke-linejoin="round"/></g>
<g id="i4"><defs><linearGradient id="g20" gradientUnits="userSpaceOnUse" x1="0" y1="1236.8" x2="0" y2="1480.5"><stop offset="0" stop-color="#ffffff"/><stop offset="1" stop-color="#fdec3a"/></linearGradient></defs><path d="M428.4 1306.4 C418.6 1299.3 406.1 1295.4 394.5 1295.4 C352.5 1295.4 324.3 1333.2 324.3 1381.4 C324.3 1433.2 356.1 1472.5 397.1 1472.5 C409.6 1472.5 417.7 1471.1 423.0 1469.3M395.4 1330.0 C386.4 1345.7 382.0 1361.8 382.0 1379.6 C382.0 1424.3 404.3 1472.5 450.7 1472.5 C495.4 1472.5 532.1 1435.0 532.1 1381.4 C532.1 1333.2 504.3 1295.4 465.0 1295.4 C450.7 1295.4 438.2 1299.3 428.4 1306.4 L428.4 1314.5M382.0 1240.7 C404.3 1251.1 420.4 1267.1 426.6 1293.9M430.2 1295.4 C434.6 1267.1 450.7 1248.4 472.1 1248.4 L512.7 1248.4 C512.7 1270.7 498.9 1295.4 470.4 1295.4 L430.2 1295.4" fill="none" stroke="url(#g20)" stroke-width="15.6" stroke-linecap="round" stroke-linejoin="round"/></g>
<g id="i5"><defs><linearGradient id="g21" gradientUnits="userSpaceOnUse" x1="0" y1="1162.3" x2="0" y2="1412.3"><stop offset="0" stop-color="#ffffff"/><stop offset="1" stop-color="#fdec3a"/></linearGradient></defs><path d="M1387.4 1287.7A82.1 82.1 0 1 1 1533.8 1213.3M1539.2 1227.8A82.1 82.1 0 0 1 1532.4 1287.4M1392.8 1195.1A83.9 83.9 0 0 0 1396.9 1357.4M1530.9 1196.4A83.9 83.9 0 0 1 1522.7 1357.4M1362.5 1273.0 L1378.6 1282.0 C1392.9 1291.8 1416.1 1291.8 1435.7 1304.3 C1450.0 1314.1 1455.4 1329.3 1457.1 1347.1 Q1459.8 1354.3 1462.5 1347.1 C1464.3 1329.3 1469.6 1314.1 1483.9 1304.3 C1503.6 1291.8 1526.8 1291.8 1541.1 1282.0 L1557.1 1273.0M1362.5 1273.0 C1364.3 1300.7 1371.4 1318.6 1384.8 1336.4M1557.1 1273.0 C1555.4 1300.7 1546.4 1332.9 1523.2 1354.3M1358.9 1364.1 C1375.0 1360.5 1385.7 1357.0 1396.4 1355.2 C1414.3 1357.0 1432.1 1360.5 1442.9 1365.9 C1450.0 1370.4 1451.8 1377.5 1451.8 1386.4 L1451.8 1407.9M1358.9 1364.1 C1380.4 1372.1 1407.1 1377.5 1441.1 1371.8M1395.5 1347.1 C1400.0 1350.7 1407.1 1354.3 1414.3 1357.5M1560.7 1364.1 C1544.6 1360.5 1533.9 1357.0 1523.2 1355.2 C1505.4 1357.0 1487.5 1360.5 1476.8 1365.9 C1469.6 1370.4 1467.9 1377.5 1467.9 1386.4 L1467.9 1407.9M1560.7 1364.1 C1539.3 1372.1 1512.5 1377.5 1478.6 1371.8" fill="none" stroke="url(#g21)" stroke-width="8.8" stroke-linecap="round" stroke-linejoin="round"/></g>
<g id="i6"><defs><linearGradient id="g22" gradientUnits="userSpaceOnUse" x1="0" y1="1113.5" x2="0" y2="1377.6"><stop offset="0" stop-color="#ffffff"/><stop offset="1" stop-color="#fdec3a"/></linearGradient></defs><path d="M2466.4 1179.0 L2507.6 1122.7 L2540.9 1171.7M2483.6 1285.6 L2407.9 1285.6 L2442.0 1232.6M2577.2 1223.7 L2610.1 1286.2 L2544.5 1286.2" fill="none" stroke="url(#g22)" stroke-width="15.6" stroke-linecap="round" stroke-linejoin="round"/>
<path d="M2568.6 1157.8 L2562.1 1201.2 L2521.5 1184.6 ZM2456.8 1200.3 L2415.3 1212.3 L2459.6 1243.7 ZM2510.4 1285.2 L2544.5 1258.5 L2544.5 1313.0 Z" fill="url(#g22)"/>
<text x="2481.4" y="1248.3" font-family="'Liberation Sans', sans-serif" font-size="84.6" fill="url(#g22)" textLength="43.4" lengthAdjust="spacingAndGlyphs">5</text>
<text x="2464.9" y="1377.6" font-family="'Liberation Sans', sans-serif" font-size="85.9" fill="url(#g22)" textLength="94.4" lengthAdjust="spacingAndGlyphs">PP</text></g>
<g id="i7"><defs><linearGradient id="g23" gradientUnits="userSpaceOnUse" x1="0" y1="1714.2" x2="0" y2="2007.5"><stop offset="0" stop-color="#ffffff"/><stop offset="1" stop-color="#fdec3a"/></linearGradient><linearGradient id="g24" gradientUnits="userSpaceOnUse" x1="0" y1="1867.6" x2="0" y2="1947.4"><stop offset="0" stop-color="#ffffff"/><stop offset="1" stop-color="#fdec3a"/></linearGradient><linearGradient id="g25" gradientUnits="userSpaceOnUse" x1="0" y1="1804.5" x2="0" y2="1835.0"><stop offset="0" stop-color="#ffffff"/><stop offset="1" stop-color="#fdec3a"/></linearGradient></defs><path d="M420.1 1719.1 L521.6 1719.1 Q529.5 1719.1 529.5 1727.0 L529.5 1746.3 Q529.5 1754.2 521.6 1754.2 L420.1 1754.2 Q412.2 1754.2 412.2 1746.3 L412.2 1727.0 Q412.2 1719.1 420.1 1719.1 ZM428.0 1754.2 L428.0 1774.9 L431.4 1778.9 L431.4 1786.7 C409.3 1792.7 391.5 1806.5 391.5 1830.1 L391.5 1989.8 Q391.5 2002.6 405.3 2002.6 L535.4 2002.6 Q549.2 2002.6 549.2 1989.8 L549.2 1830.1 C549.2 1806.5 531.5 1792.7 509.4 1786.7 L509.4 1778.9 L512.8 1774.9 L512.8 1754.2 M428.0 1774.9 L512.8 1774.9M392.1 1864.0 C419.1 1838.0 521.6 1838.0 548.7 1864.0 M392.1 1950.4 C419.1 1977.2 521.6 1977.2 548.7 1950.4" fill="none" stroke="url(#g23)" stroke-width="9.8" stroke-linecap="round" stroke-linejoin="round"/>
<path d="M454.6 1872.5 L486.2 1872.5 L486.2 1891.2 L504.9 1891.2 L504.9 1923.7 L486.2 1923.7 L486.2 1942.5 L454.6 1942.5 L454.6 1923.7 L435.9 1923.7 L435.9 1891.2 L454.6 1891.2 Z" fill="none" stroke="url(#g24)" stroke-width="9.8" stroke-linecap="round" stroke-linejoin="round"/>
<path d="M412.8 1830.1 C414.2 1818.3 423.1 1810.4 433.9 1809.4" fill="none" stroke="url(#g25)" stroke-width="9.8" stroke-linecap="round" stroke-linejoin="round"/></g>
<g id="i8"><defs><linearGradient id="g26" gradientUnits="userSpaceOnUse" x1="0" y1="1962.3" x2="0" y2="2010.9"><stop offset="0" stop-color="#ffffff"/><stop offset="1" stop-color="#fdec3a"/></linearGradient><linearGradient id="g27" gradientUnits="userSpaceOnUse" x1="0" y1="1732.2" x2="0" y2="1887.8"><stop offset="0" stop-color="#ffffff"/><stop offset="1" stop-color="#fdec3a"/></linearGradient><linearGradient id="g28" gradientUnits="userSpaceOnUse" x1="0" y1="1733.1" x2="0" y2="1765.6"><stop offset="0" stop-color="#ffffff"/><stop offset="1" stop-color="#fdec3a"/></linearGradient><linearGradient id="g29" gradientUnits="userSpaceOnUse" x1="0" y1="1863.9" x2="0" y2="1896.4"><stop offset="0" stop-color="#ffffff"/><stop offset="1" stop-color="#fdec3a"/></linearGradient><linearGradient id="g30" gradientUnits="userSpaceOnUse" x1="0" y1="1889.7" x2="0" y2="1924.1"><stop offset="0" stop-color="#ffffff"/><stop offset="1" stop-color="#fdec3a"/></linearGradient><linearGradient id="g31" gradientUnits="userSpaceOnUse" x1="0" y1="1905.0" x2="0" y2="1946.0"><stop offset="0" stop-color="#ffffff"/><stop offset="1" stop-color="#fdec3a"/></linearGradient><linearGradient id="g32" gradientUnits="userSpaceOnUse" x1="0" y1="1918.3" x2="0" y2="1951.8"><stop offset="0" stop-color="#ffffff"/><stop offset="1" stop-color="#fdec3a"/></linearGradient></defs><path d="M1339.0 1968.0 L1425.5 1968.0 Q1432.2 1968.9 1437.9 1975.6 Q1443.7 1983.3 1451.3 1983.3 L1495.2 1983.3 Q1502.8 1983.3 1508.6 1975.6 Q1513.3 1968.9 1520.0 1968.0 L1606.3 1968.0 L1606.3 2005.2 L1339.0 2005.2 Z" fill="none" stroke="url(#g26)" stroke-width="10.8" stroke-linecap="round" stroke-linejoin="round"/>
<path d="M1482.8 1883.0 L1482.8 1797.1 C1487.6 1772.3 1516.2 1741.7 1540.1 1737.5 C1535.3 1753.2 1516.2 1778.0 1490.4 1793.3M1486.6 1796.1 L1535.3 1846.7 C1554.4 1865.8 1581.1 1865.8 1596.4 1848.7 C1611.7 1829.6 1607.9 1806.6 1592.6 1791.4 L1542.0 1738.3M1563.9 1736.0 L1563.9 1791.4M1577.7 1806.6A13.7 13.7 0 0 1 1550.2 1806.6M1550.2 1806.6A13.7 13.7 0 0 1 1577.7 1806.6" fill="none" stroke="url(#g27)" stroke-width="10.8" stroke-linecap="round" stroke-linejoin="round"/>
<path d="M1470.4 1733.1 C1467.7 1743.8 1473.1 1753.0 1470.4 1763.7" fill="none" stroke="url(#g28)" stroke-width="10.6" stroke-linecap="butt" stroke-linejoin="round"/>
<circle cx="1470.4" cy="1762.7" r="5.0" fill="#fdec3a"/>
<path d="M1457.0 1863.9 C1460.1 1874.6 1454.0 1883.8 1457.0 1894.5" fill="none" stroke="url(#g29)" stroke-width="10.6" stroke-linecap="butt" stroke-linejoin="round"/>
<circle cx="1457.0" cy="1893.5" r="5.0" fill="#fdec3a"/>
<path d="M1516.2 1889.7 C1513.2 1901.1 1519.3 1910.8 1516.2 1922.2" fill="none" stroke="url(#g30)" stroke-width="10.6" stroke-linecap="butt" stroke-linejoin="round"/>
<circle cx="1516.2" cy="1921.2" r="5.0" fill="#fdec3a"/>
<path d="M1481.8 1905.0 C1481.8 1918.7 1481.8 1930.4 1481.8 1944.1" fill="none" stroke="url(#g31)" stroke-width="10.6" stroke-linecap="butt" stroke-linejoin="round"/>
<circle cx="1481.8" cy="1943.1" r="5.0" fill="#fdec3a"/>
<path d="M1441.7 1918.3 C1439.1 1929.4 1444.4 1938.8 1441.7 1949.8" fill="none" stroke="url(#g32)" stroke-width="10.6" stroke-linecap="butt" stroke-linejoin="round"/>
<circle cx="1441.7" cy="1948.8" r="5.0" fill="#fdec3a"/></g>
<g id="i9"><defs><linearGradient id="g33" gradientUnits="userSpaceOnUse" x1="0" y1="1730.9" x2="0" y2="1949.0"><stop offset="0" stop-color="#ffffff"/><stop offset="1" stop-color="#fdec3a"/></linearGradient><linearGradient id="g34" gradientUnits="userSpaceOnUse" x1="0" y1="1752.3" x2="0" y2="1759.3"><stop offset="0" stop-color="#fff8b0"/><stop offset="1" stop-color="#fdec3a"/></linearGradient><linearGradient id="g35" gradientUnits="userSpaceOnUse" x1="0" y1="1745.1" x2="0" y2="1752.1"><stop offset="0" stop-color="#fff8b0"/><stop offset="1" stop-color="#fdec3a"/></linearGradient><linearGradient id="g36" gradientUnits="userSpaceOnUse" x1="0" y1="1766.5" x2="0" y2="1773.5"><stop offset="0" stop-color="#fff8b0"/><stop offset="1" stop-color="#fdec3a"/></linearGradient><linearGradient id="g37" gradientUnits="userSpaceOnUse" x1="0" y1="1763.1" x2="0" y2="1770.1"><stop offset="0" stop-color="#fff8b0"/><stop offset="1" stop-color="#fdec3a"/></linearGradient><linearGradient id="g38" gradientUnits="userSpaceOnUse" x1="0" y1="1765.4" x2="0" y2="1772.4"><stop offset="0" stop-color="#fff8b0"/><stop offset="1" stop-color="#fdec3a"/></linearGradient></defs><path d="M2463.1 1779.6 C2492.4 1759.6 2513.9 1734.7 2541.6 1734.7 C2569.3 1734.7 2590.9 1759.6 2620.1 1779.6M2452.3 1781.2 L2630.9 1781.2 C2641.7 1781.2 2641.7 1802.7 2630.9 1802.7 L2607.0 1802.7 M2528.5 1802.7 L2452.3 1802.7 C2441.6 1802.7 2441.6 1781.2 2452.3 1781.2 M2452.3 1802.7 C2441.6 1802.7 2441.6 1824.3 2452.3 1824.3 L2630.9 1824.3 C2641.7 1824.3 2641.7 1802.7 2630.9 1802.7M2450.0 1827.4 C2441.6 1850.5 2436.2 1876.6 2437.7 1912.0 C2427.7 1919.7 2421.5 1927.4 2424.6 1935.1 C2428.5 1944.4 2443.1 1944.4 2457.0 1937.4 C2484.7 1945.1 2513.9 1945.1 2541.6 1945.1 C2569.3 1945.1 2600.1 1945.1 2626.3 1937.4 C2640.1 1944.4 2655.5 1944.4 2660.1 1935.1 C2663.2 1927.4 2657.1 1919.7 2646.3 1912.0 C2647.8 1876.6 2643.2 1850.5 2634.0 1827.4" fill="none" stroke="url(#g33)" stroke-width="6.5" stroke-linecap="butt" stroke-linejoin="round"/>
<circle cx="2523.1" cy="1755.8" r="3.5" fill="url(#g34)"/>
<circle cx="2557.0" cy="1748.6" r="3.5" fill="url(#g35)"/>
<circle cx="2500.4" cy="1770.0" r="3.5" fill="url(#g36)"/>
<circle cx="2541.9" cy="1766.6" r="3.5" fill="url(#g37)"/>
<circle cx="2576.7" cy="1768.9" r="3.5" fill="url(#g38)"/></g>
</svg></body></html>
